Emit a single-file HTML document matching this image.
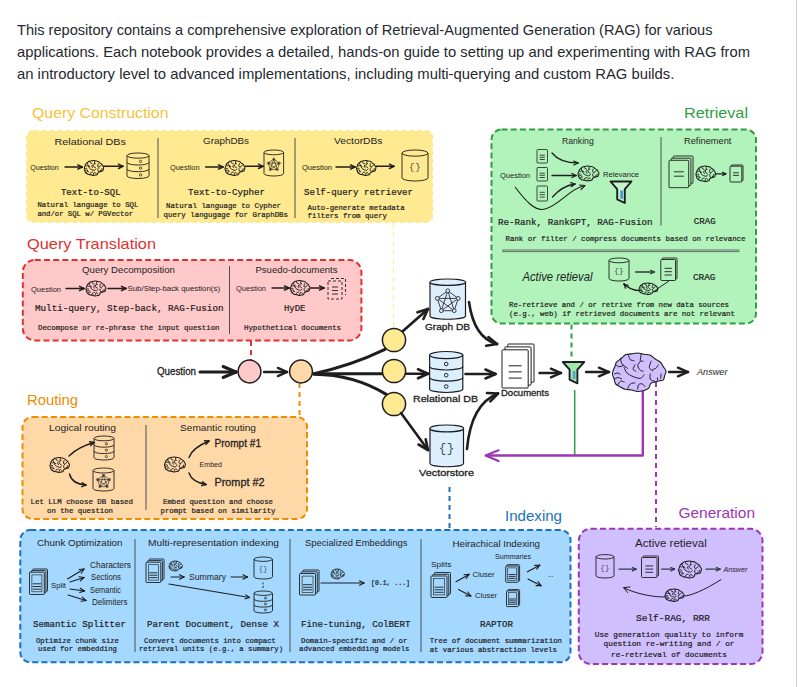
<!DOCTYPE html>
<html><head><meta charset="utf-8"><title>RAG</title>
<style>
html,body{margin:0;padding:0;background:#fff;}
body{width:800px;height:687px;overflow:hidden;position:relative;font-family:"Liberation Sans",sans-serif;}
.p{position:absolute;left:17px;top:18px;width:770px;font-size:15.2px;line-height:22px;color:#1f2328;white-space:nowrap;}
.vl{position:absolute;left:796px;top:0;width:1px;height:687px;background:#d0d0d0;}
svg{position:absolute;left:0;top:0;}
</style></head><body>

<div class="vl"></div>
<svg width="800" height="687" viewBox="0 0 800 687">
<text x="17" y="35" font-family="Liberation Sans, sans-serif" font-size="15" fill="#24292f" textLength="695.5" lengthAdjust="spacingAndGlyphs">This repository contains a comprehensive exploration of Retrieval-Augmented Generation (RAG) for various</text>
<text x="17" y="57" font-family="Liberation Sans, sans-serif" font-size="15" fill="#24292f" textLength="733.0" lengthAdjust="spacingAndGlyphs">applications. Each notebook provides a detailed, hands-on guide to setting up and experimenting with RAG from</text>
<text x="17" y="78.5" font-family="Liberation Sans, sans-serif" font-size="15" fill="#24292f" textLength="657.3" lengthAdjust="spacingAndGlyphs">an introductory level to advanced implementations, including multi-querying and custom RAG builds.</text>
<rect x="27" y="131" width="405.3" height="91" rx="6" fill="#ffe991" stroke="#ffe991" stroke-width="2" stroke-dasharray="5 3"/>
<rect x="22.8" y="260.0" width="338.6" height="80.4" rx="12" fill="#ffc9c9" stroke="#e03131" stroke-width="2" stroke-dasharray="6 3.2"/>
<rect x="22.5" y="417.0" width="284.5" height="102.0" rx="10" fill="#ffd8a8" stroke="#f08c00" stroke-width="2" stroke-dasharray="6 3.2"/>
<rect x="20.3" y="530.0" width="550.2" height="132.3" rx="10" fill="#a5d8ff" stroke="#1971c2" stroke-width="2" stroke-dasharray="6 3.2"/>
<rect x="491.5" y="129.5" width="264.5" height="194.0" rx="10" fill="#b2f2bb" stroke="#2f9e44" stroke-width="2" stroke-dasharray="6 3.2"/>
<rect x="578.8" y="528.8" width="183.7" height="135.2" rx="12" fill="#d0bfff" stroke="#9c36b5" stroke-width="2" stroke-dasharray="6 3.2"/>
<path d="M393.5 223 L393.5 329" stroke="#ffe991" stroke-width="1.2" stroke-dasharray="5 4" fill="none"/>
<path d="M251 341 L251 360" stroke="#e03131" stroke-width="2" stroke-dasharray="5 4" fill="none"/>
<path d="M299.5 383 L299.5 416" stroke="#f08c00" stroke-width="2" stroke-dasharray="5 4" fill="none"/>
<path d="M449.5 487 L449.5 528" stroke="#1971c2" stroke-width="2" stroke-dasharray="5 4" fill="none"/>
<path d="M571.5 324.5 L571.5 360" stroke="#2f9e44" stroke-width="2" stroke-dasharray="5 4" fill="none"/>
<path d="M656 382 L656 527" stroke="#9c36b5" stroke-width="2" stroke-dasharray="5 4" fill="none"/>
<path d="M574.7 390 L574.7 455" stroke="#2f9e44" stroke-width="1.5" fill="none"/>
<path d="M642.8 391 L642.8 455.5 L487 455.5" stroke="#9c36b5" stroke-width="2.4" fill="none" stroke-linejoin="round"/>
<path d="M498.5 450.3 L485.5 455.5 L498.5 461" stroke="#9c36b5" stroke-width="2.2" fill="none" stroke-linecap="round" stroke-linejoin="round"/>
<text x="32.0" y="118.0" font-family="Liberation Sans, sans-serif" font-size="14.50" font-style="normal" font-weight="normal" fill="#f5c33b" stroke="#f5c33b" stroke-width="0.0" textLength="136.5" lengthAdjust="spacingAndGlyphs">Query Construction</text>
<text x="27.0" y="249.0" font-family="Liberation Sans, sans-serif" font-size="14.50" font-style="normal" font-weight="normal" fill="#e03131" stroke="#e03131" stroke-width="0.0" textLength="129.0" lengthAdjust="spacingAndGlyphs">Query Translation</text>
<text x="27.0" y="404.5" font-family="Liberation Sans, sans-serif" font-size="14.50" font-style="normal" font-weight="normal" fill="#f08c00" stroke="#f08c00" stroke-width="0.0" textLength="51.0" lengthAdjust="spacingAndGlyphs">Routing</text>
<text x="684.0" y="118.0" font-family="Liberation Sans, sans-serif" font-size="14.50" font-style="normal" font-weight="normal" fill="#2f9e44" stroke="#2f9e44" stroke-width="0.0" textLength="64.0" lengthAdjust="spacingAndGlyphs">Retrieval</text>
<text x="505.0" y="520.5" font-family="Liberation Sans, sans-serif" font-size="14.50" font-style="normal" font-weight="normal" fill="#1971c2" stroke="#1971c2" stroke-width="0.0" textLength="57.0" lengthAdjust="spacingAndGlyphs">Indexing</text>
<text x="678.5" y="518.0" font-family="Liberation Sans, sans-serif" font-size="14.50" font-style="normal" font-weight="normal" fill="#9c36b5" stroke="#9c36b5" stroke-width="0.0" textLength="76.5" lengthAdjust="spacingAndGlyphs">Generation</text>
<path d="M158.0 138.0 L158.0 218.0" stroke="#495057" stroke-width="1.0" fill="none"/>
<path d="M295.0 138.0 L295.0 218.0" stroke="#495057" stroke-width="1.0" fill="none"/>
<text x="54.5" y="144.7" font-family="Liberation Sans, sans-serif" font-size="9.80" font-style="normal" font-weight="normal" fill="#1e1e1e" stroke="#1e1e1e" stroke-width="0.0" textLength="71.5" lengthAdjust="spacingAndGlyphs">Relational DBs</text>
<text x="203.0" y="144.2" font-family="Liberation Sans, sans-serif" font-size="9.80" font-style="normal" font-weight="normal" fill="#1e1e1e" stroke="#1e1e1e" stroke-width="0.0" textLength="46.0" lengthAdjust="spacingAndGlyphs">GraphDBs</text>
<text x="334.0" y="144.0" font-family="Liberation Sans, sans-serif" font-size="9.80" font-style="normal" font-weight="normal" fill="#1e1e1e" stroke="#1e1e1e" stroke-width="0.0" textLength="48.5" lengthAdjust="spacingAndGlyphs">VectorDBs</text>
<text x="30.3" y="169.8" font-family="Liberation Sans, sans-serif" font-size="7.50" font-style="normal" font-weight="normal" fill="#1e1e1e" stroke="#1e1e1e" stroke-width="0.0" textLength="28.5" lengthAdjust="spacingAndGlyphs">Question</text>
<path d="M65.0 167.0 L82.3 167.0" fill="none" stroke="#1e1e1e" stroke-width="1.4" stroke-linecap="round"/>
<path d="M82.3 167.0 L77.8 164.8" fill="none" stroke="#1e1e1e" stroke-width="1.4" stroke-linecap="round"/>
<path d="M82.3 167.0 L77.8 169.2" fill="none" stroke="#1e1e1e" stroke-width="1.4" stroke-linecap="round"/>
<path d="M84.45 167.56 C84.61 166.99 85.03 166.13 85.25 165.55 C85.47 164.96 85.39 164.53 85.75 164.05 C86.12 163.57 86.90 163.14 87.45 162.67 C87.99 162.20 88.41 161.53 89.04 161.23 C89.67 160.92 90.49 160.96 91.23 160.84 C91.96 160.72 92.70 160.48 93.44 160.50 C94.18 160.52 94.90 160.81 95.66 160.96 C96.41 161.10 97.31 161.08 97.99 161.39 C98.68 161.70 99.13 162.35 99.76 162.82 C100.39 163.30 101.26 163.70 101.76 164.21 C102.26 164.72 102.43 165.34 102.75 165.90 C103.07 166.46 103.62 166.99 103.70 167.56 C103.78 168.12 103.38 168.72 103.22 169.28 C103.05 169.85 103.05 170.60 102.73 170.94 C102.41 171.29 101.82 171.21 101.31 171.35 C100.79 171.49 100.16 171.62 99.63 171.79 C99.11 171.96 98.56 171.94 98.18 172.36 C97.80 172.77 97.78 173.84 97.36 174.29 C96.94 174.74 96.31 174.88 95.66 175.08 C95.00 175.28 94.18 175.53 93.44 175.50 C92.70 175.47 91.99 175.04 91.23 174.89 C90.46 174.74 89.53 174.81 88.85 174.61 C88.17 174.42 87.73 174.07 87.16 173.72 C86.59 173.37 85.79 173.03 85.42 172.52 C85.05 172.00 85.11 171.24 84.93 170.65 C84.74 170.05 84.38 169.48 84.30 168.97 C84.22 168.45 84.29 168.13 84.45 167.56Z" fill="none" stroke="#1e1e1e" stroke-width="1.05" stroke-linejoin="round"/>
<path d="M87.21 162.48 C87.29 162.84 87.26 163.98 87.70 164.65 C88.13 165.33 89.47 166.20 89.82 166.51 M90.16 161.59 C90.24 161.83 90.35 162.72 90.68 163.04 C91.01 163.36 91.89 163.44 92.13 163.52 M94.75 160.86 C94.69 161.29 94.30 162.97 94.41 163.44 C94.52 163.91 95.22 163.65 95.38 163.69 M94.41 163.69 C94.25 163.98 93.44 164.87 93.44 165.46 C93.44 166.05 94.09 166.88 94.41 167.23 C94.73 167.58 95.22 167.50 95.38 167.56 M92.43 165.10 C92.33 165.39 91.74 166.46 91.80 166.87 C91.85 167.28 92.61 167.44 92.77 167.56 M98.33 163.69 C98.22 164.10 97.55 165.50 97.66 166.15 C97.76 166.79 98.74 167.32 98.96 167.56 M100.94 165.10 C100.78 165.33 100.30 166.21 99.97 166.51 C99.64 166.80 99.13 166.81 98.96 166.87 M88.52 166.15 C88.69 166.50 89.01 167.69 89.56 168.28 C90.11 168.87 90.99 169.34 91.80 169.69 C92.61 170.04 93.76 170.50 94.41 170.38 C95.06 170.26 95.50 169.20 95.72 168.97 M97.99 168.65 C97.99 168.99 97.72 170.22 97.99 170.70 C98.27 171.18 99.36 171.37 99.63 171.51 M85.08 168.65 C85.28 168.58 85.91 168.26 86.24 168.28 C86.57 168.31 86.92 168.72 87.06 168.81 M84.93 170.74 C85.15 170.63 85.80 170.08 86.24 170.06 C86.68 170.03 87.33 170.49 87.55 170.58 M86.24 172.88 C86.40 172.64 86.83 171.65 87.21 171.47 C87.59 171.29 88.30 171.74 88.52 171.79 M89.82 174.29 C89.99 173.99 90.39 172.87 90.83 172.52 C91.26 172.16 92.17 172.21 92.43 172.15 M93.44 174.61 C93.49 174.32 93.47 173.23 93.74 172.88 C94.01 172.53 94.66 172.40 95.04 172.52 C95.43 172.63 95.88 173.39 96.05 173.56 M85.61 165.10 C85.77 165.22 86.14 165.76 86.58 165.82 C87.01 165.88 87.94 165.52 88.22 165.46 M101.91 168.65 C101.88 168.93 101.78 170.09 101.76 170.38 M100.60 170.22 C100.60 170.37 100.60 170.96 100.60 171.10" fill="none" stroke="#1e1e1e" stroke-width="0.95" stroke-linecap="round"/>
<path d="M103.7 166.3 L123.0 166.3" fill="none" stroke="#1e1e1e" stroke-width="1.4" stroke-linecap="round"/>
<path d="M123.0 166.3 L118.5 164.1" fill="none" stroke="#1e1e1e" stroke-width="1.4" stroke-linecap="round"/>
<path d="M123.0 166.3 L118.5 168.5" fill="none" stroke="#1e1e1e" stroke-width="1.4" stroke-linecap="round"/>
<text x="170.0" y="169.8" font-family="Liberation Sans, sans-serif" font-size="7.50" font-style="normal" font-weight="normal" fill="#1e1e1e" stroke="#1e1e1e" stroke-width="0.0" textLength="29.6" lengthAdjust="spacingAndGlyphs">Question</text>
<path d="M205.6 167.0 L223.0 167.0" fill="none" stroke="#1e1e1e" stroke-width="1.4" stroke-linecap="round"/>
<path d="M223.0 167.0 L218.5 164.8" fill="none" stroke="#1e1e1e" stroke-width="1.4" stroke-linecap="round"/>
<path d="M223.0 167.0 L218.5 169.2" fill="none" stroke="#1e1e1e" stroke-width="1.4" stroke-linecap="round"/>
<path d="M225.15 167.56 C225.32 166.99 225.76 166.13 225.98 165.55 C226.21 164.96 226.12 164.53 226.50 164.05 C226.88 163.57 227.68 163.14 228.25 162.67 C228.81 162.20 229.24 161.53 229.88 161.23 C230.53 160.92 231.39 160.96 232.14 160.84 C232.90 160.72 233.66 160.48 234.42 160.50 C235.18 160.52 235.93 160.81 236.71 160.96 C237.49 161.10 238.41 161.08 239.12 161.39 C239.82 161.70 240.29 162.35 240.94 162.82 C241.59 163.30 242.49 163.70 243.00 164.21 C243.51 164.72 243.69 165.34 244.02 165.90 C244.35 166.46 244.92 166.99 245.00 167.56 C245.08 168.12 244.67 168.72 244.50 169.28 C244.33 169.85 244.33 170.60 244.00 170.94 C243.67 171.29 243.07 171.21 242.53 171.35 C242.00 171.49 241.35 171.62 240.81 171.79 C240.27 171.96 239.70 171.94 239.31 172.36 C238.91 172.77 238.89 173.84 238.46 174.29 C238.03 174.74 237.38 174.88 236.71 175.08 C236.03 175.28 235.18 175.53 234.42 175.50 C233.66 175.47 232.93 175.04 232.14 174.89 C231.35 174.74 230.39 174.81 229.69 174.61 C228.99 174.42 228.54 174.07 227.95 173.72 C227.36 173.37 226.54 173.03 226.15 172.52 C225.77 172.00 225.84 171.24 225.65 170.65 C225.45 170.05 225.08 169.48 225.00 168.97 C224.92 168.45 224.99 168.13 225.15 167.56Z" fill="none" stroke="#1e1e1e" stroke-width="1.05" stroke-linejoin="round"/>
<path d="M228.00 162.48 C228.08 162.84 228.05 163.98 228.50 164.65 C228.95 165.33 230.33 166.20 230.69 166.51 M231.04 161.59 C231.13 161.83 231.24 162.72 231.58 163.04 C231.92 163.36 232.83 163.44 233.08 163.52 M235.77 160.86 C235.71 161.29 235.31 162.97 235.42 163.44 C235.53 163.91 236.26 163.65 236.42 163.69 M235.42 163.69 C235.26 163.98 234.42 164.87 234.42 165.46 C234.42 166.05 235.09 166.88 235.42 167.23 C235.76 167.58 236.26 167.50 236.42 167.56 M233.38 165.10 C233.28 165.39 232.67 166.46 232.73 166.87 C232.79 167.28 233.56 167.44 233.73 167.56 M239.46 163.69 C239.35 164.10 238.66 165.50 238.77 166.15 C238.88 166.79 239.89 167.32 240.12 167.56 M242.15 165.10 C241.99 165.33 241.49 166.21 241.15 166.51 C240.81 166.80 240.29 166.81 240.12 166.87 M229.35 166.15 C229.53 166.50 229.86 167.69 230.42 168.28 C230.99 168.87 231.90 169.34 232.73 169.69 C233.56 170.04 234.75 170.50 235.42 170.38 C236.10 170.26 236.54 169.20 236.77 168.97 M239.12 168.65 C239.12 168.99 238.83 170.22 239.12 170.70 C239.40 171.18 240.53 171.37 240.81 171.51 M225.81 168.65 C226.01 168.58 226.66 168.26 227.00 168.28 C227.34 168.31 227.71 168.72 227.85 168.81 M225.65 170.74 C225.88 170.63 226.55 170.08 227.00 170.06 C227.45 170.03 228.12 170.49 228.35 170.58 M227.00 172.88 C227.17 172.64 227.61 171.65 228.00 171.47 C228.39 171.29 229.12 171.74 229.35 171.79 M230.69 174.29 C230.87 173.99 231.28 172.87 231.73 172.52 C232.18 172.16 233.11 172.21 233.38 172.15 M234.42 174.61 C234.47 174.32 234.46 173.23 234.73 172.88 C235.01 172.53 235.68 172.40 236.08 172.52 C236.47 172.63 236.94 173.39 237.12 173.56 M226.35 165.10 C226.51 165.22 226.90 165.76 227.35 165.82 C227.79 165.88 228.76 165.52 229.04 165.46 M243.15 168.65 C243.13 168.93 243.03 170.09 243.00 170.38 M241.81 170.22 C241.81 170.37 241.81 170.96 241.81 171.10" fill="none" stroke="#1e1e1e" stroke-width="0.95" stroke-linecap="round"/>
<path d="M245.6 166.3 L263.0 166.3" fill="none" stroke="#1e1e1e" stroke-width="1.4" stroke-linecap="round"/>
<path d="M263.0 166.3 L258.5 164.1" fill="none" stroke="#1e1e1e" stroke-width="1.4" stroke-linecap="round"/>
<path d="M263.0 166.3 L258.5 168.5" fill="none" stroke="#1e1e1e" stroke-width="1.4" stroke-linecap="round"/>
<text x="302.0" y="169.8" font-family="Liberation Sans, sans-serif" font-size="7.50" font-style="normal" font-weight="normal" fill="#1e1e1e" stroke="#1e1e1e" stroke-width="0.0" textLength="30.0" lengthAdjust="spacingAndGlyphs">Question</text>
<path d="M336.0 167.0 L355.0 167.0" fill="none" stroke="#1e1e1e" stroke-width="1.4" stroke-linecap="round"/>
<path d="M355.0 167.0 L350.5 164.8" fill="none" stroke="#1e1e1e" stroke-width="1.4" stroke-linecap="round"/>
<path d="M355.0 167.0 L350.5 169.2" fill="none" stroke="#1e1e1e" stroke-width="1.4" stroke-linecap="round"/>
<path d="M356.75 167.56 C356.91 166.99 357.33 166.13 357.55 165.55 C357.77 164.96 357.69 164.53 358.06 164.05 C358.42 163.57 359.20 163.14 359.75 162.67 C360.29 162.20 360.71 161.53 361.34 161.23 C361.97 160.92 362.79 160.96 363.53 160.84 C364.26 160.72 365.00 160.48 365.74 160.50 C366.48 160.52 367.20 160.81 367.96 160.96 C368.71 161.10 369.61 161.08 370.29 161.39 C370.98 161.70 371.43 162.35 372.06 162.82 C372.69 163.30 373.56 163.70 374.06 164.21 C374.56 164.72 374.73 165.34 375.05 165.90 C375.37 166.46 375.92 166.99 376.00 167.56 C376.08 168.12 375.68 168.72 375.52 169.28 C375.35 169.85 375.35 170.60 375.03 170.94 C374.71 171.29 374.12 171.21 373.61 171.35 C373.09 171.49 372.46 171.62 371.93 171.79 C371.41 171.96 370.86 171.94 370.48 172.36 C370.10 172.77 370.08 173.84 369.66 174.29 C369.24 174.74 368.61 174.88 367.96 175.08 C367.30 175.28 366.48 175.53 365.74 175.50 C365.00 175.47 364.29 175.04 363.53 174.89 C362.76 174.74 361.83 174.81 361.15 174.61 C360.47 174.42 360.03 174.07 359.46 173.72 C358.89 173.37 358.09 173.03 357.72 172.52 C357.35 172.00 357.41 171.24 357.23 170.65 C357.04 170.05 356.68 169.48 356.60 168.97 C356.52 168.45 356.59 168.13 356.75 167.56Z" fill="none" stroke="#1e1e1e" stroke-width="1.05" stroke-linejoin="round"/>
<path d="M359.51 162.48 C359.59 162.84 359.56 163.98 360.00 164.65 C360.43 165.33 361.77 166.20 362.12 166.51 M362.46 161.59 C362.54 161.83 362.65 162.72 362.98 163.04 C363.31 163.36 364.19 163.44 364.43 163.52 M367.05 160.86 C366.99 161.29 366.60 162.97 366.71 163.44 C366.82 163.91 367.52 163.65 367.68 163.69 M366.71 163.69 C366.55 163.98 365.74 164.87 365.74 165.46 C365.74 166.05 366.39 166.88 366.71 167.23 C367.03 167.58 367.52 167.50 367.68 167.56 M364.73 165.10 C364.63 165.39 364.04 166.46 364.10 166.87 C364.15 167.28 364.91 167.44 365.07 167.56 M370.63 163.69 C370.52 164.10 369.85 165.50 369.96 166.15 C370.06 166.79 371.04 167.32 371.26 167.56 M373.24 165.10 C373.08 165.33 372.60 166.21 372.27 166.51 C371.94 166.80 371.43 166.81 371.26 166.87 M360.82 166.15 C360.99 166.50 361.31 167.69 361.86 168.28 C362.41 168.87 363.29 169.34 364.10 169.69 C364.91 170.04 366.06 170.50 366.71 170.38 C367.36 170.26 367.80 169.20 368.02 168.97 M370.29 168.65 C370.29 168.99 370.02 170.22 370.29 170.70 C370.57 171.18 371.66 171.37 371.93 171.51 M357.38 168.65 C357.58 168.58 358.21 168.26 358.54 168.28 C358.87 168.31 359.22 168.72 359.36 168.81 M357.23 170.74 C357.45 170.63 358.10 170.08 358.54 170.06 C358.98 170.03 359.63 170.49 359.85 170.58 M358.54 172.88 C358.70 172.64 359.13 171.65 359.51 171.47 C359.89 171.29 360.60 171.74 360.82 171.79 M362.12 174.29 C362.29 173.99 362.69 172.87 363.13 172.52 C363.56 172.16 364.47 172.21 364.73 172.15 M365.74 174.61 C365.79 174.32 365.77 173.23 366.04 172.88 C366.31 172.53 366.96 172.40 367.34 172.52 C367.73 172.63 368.18 173.39 368.35 173.56 M357.91 165.10 C358.07 165.22 358.44 165.76 358.88 165.82 C359.31 165.88 360.24 165.52 360.52 165.46 M374.21 168.65 C374.18 168.93 374.08 170.09 374.06 170.38 M372.90 170.22 C372.90 170.37 372.90 170.96 372.90 171.10" fill="none" stroke="#1e1e1e" stroke-width="0.95" stroke-linecap="round"/>
<path d="M376.0 166.3 L394.0 166.3" fill="none" stroke="#1e1e1e" stroke-width="1.4" stroke-linecap="round"/>
<path d="M394.0 166.3 L389.5 164.1" fill="none" stroke="#1e1e1e" stroke-width="1.4" stroke-linecap="round"/>
<path d="M394.0 166.3 L389.5 168.5" fill="none" stroke="#1e1e1e" stroke-width="1.4" stroke-linecap="round"/>
<path d="M127.0 155.6 L127.0 175.9 A11.0 2.6 0 0 0 149.0 175.9 L149.0 155.6" fill="none" stroke="#1e1e1e" stroke-width="0.9"/>
<ellipse cx="138.0" cy="155.6" rx="11.0" ry="2.6" fill="none" stroke="#1e1e1e" stroke-width="0.9"/>
<path d="M127.0 162.4 A11.0 2.6 0 0 0 149.0 162.4" fill="none" stroke="#1e1e1e" stroke-width="0.9"/>
<path d="M127.0 169.1 A11.0 2.6 0 0 0 149.0 169.1" fill="none" stroke="#1e1e1e" stroke-width="0.9"/>
<circle cx="140.6" cy="161.4" r="1.2" fill="none" stroke="#1e1e1e" stroke-width="0.72"/>
<circle cx="140.6" cy="168.1" r="1.2" fill="none" stroke="#1e1e1e" stroke-width="0.72"/>
<circle cx="140.6" cy="174.9" r="1.2" fill="none" stroke="#1e1e1e" stroke-width="0.72"/>
<path d="M264.0 152.4 L264.0 173.6 A9.8 2.4 0 0 0 283.6 173.6 L283.6 152.4" fill="none" stroke="#1e1e1e" stroke-width="0.9"/>
<ellipse cx="273.8" cy="152.4" rx="9.8" ry="2.4" fill="none" stroke="#1e1e1e" stroke-width="0.9"/>
<path d="M273.8 159.0L279.4 163.1M273.8 159.0L277.3 169.6M273.8 159.0L270.3 169.6M273.8 159.0L268.2 163.1M279.4 163.1L277.3 169.6M279.4 163.1L270.3 169.6M279.4 163.1L268.2 163.1M277.3 169.6L270.3 169.6M277.3 169.6L268.2 163.1M270.3 169.6L268.2 163.1" fill="none" stroke="#1e1e1e" stroke-width="0.63"/>
<circle cx="273.8" cy="159.0" r="1.0" fill="none" stroke="#1e1e1e" stroke-width="0.63"/>
<circle cx="279.4" cy="163.1" r="1.0" fill="none" stroke="#1e1e1e" stroke-width="0.63"/>
<circle cx="277.3" cy="169.6" r="1.0" fill="none" stroke="#1e1e1e" stroke-width="0.63"/>
<circle cx="270.3" cy="169.6" r="1.0" fill="none" stroke="#1e1e1e" stroke-width="0.63"/>
<circle cx="268.2" cy="163.1" r="1.0" fill="none" stroke="#1e1e1e" stroke-width="0.63"/>
<path d="M402.0 153.1 L402.0 177.9 A13.0 3.1 0 0 0 428.0 177.9 L428.0 153.1" fill="none" stroke="#1e1e1e" stroke-width="0.9"/>
<ellipse cx="415.0" cy="153.1" rx="13.0" ry="3.1" fill="none" stroke="#1e1e1e" stroke-width="0.9"/>
<text x="415.0" y="170.0" font-family="Liberation Mono, monospace" font-size="9.9" text-anchor="middle" fill="#495057" letter-spacing="0.4">{}</text>
<text x="60.9" y="194.7" font-family="Liberation Mono, monospace" font-size="9.20" font-weight="normal" fill="#1e1e1e" stroke="#1e1e1e" stroke-width="0.22" textLength="59.7" lengthAdjust="spacingAndGlyphs">Text-to-SQL</text>
<text x="37.4" y="207.4" font-family="Liberation Mono, monospace" font-size="7.60" font-weight="normal" fill="#1e1e1e" stroke="#1e1e1e" stroke-width="0.22" textLength="100.9" lengthAdjust="spacingAndGlyphs">Natural language to SQL</text>
<text x="37.4" y="216.2" font-family="Liberation Mono, monospace" font-size="7.60" font-weight="normal" fill="#1e1e1e" stroke="#1e1e1e" stroke-width="0.22" textLength="95.8" lengthAdjust="spacingAndGlyphs">and/or SQL w/ PGVector</text>
<text x="188.0" y="195.1" font-family="Liberation Mono, monospace" font-size="9.20" font-weight="normal" fill="#1e1e1e" stroke="#1e1e1e" stroke-width="0.22" textLength="77.0" lengthAdjust="spacingAndGlyphs">Text-to-Cypher</text>
<text x="166.0" y="207.8" font-family="Liberation Mono, monospace" font-size="7.60" font-weight="normal" fill="#1e1e1e" stroke="#1e1e1e" stroke-width="0.22" textLength="115.0" lengthAdjust="spacingAndGlyphs">Natural language to Cypher</text>
<text x="163.6" y="216.8" font-family="Liberation Mono, monospace" font-size="7.60" font-weight="normal" fill="#1e1e1e" stroke="#1e1e1e" stroke-width="0.22" textLength="124.4" lengthAdjust="spacingAndGlyphs">query langugage for GraphDBs</text>
<text x="304.0" y="194.9" font-family="Liberation Mono, monospace" font-size="9.20" font-weight="normal" fill="#1e1e1e" stroke="#1e1e1e" stroke-width="0.22" textLength="109.0" lengthAdjust="spacingAndGlyphs">Self-query retriever</text>
<text x="307.6" y="209.8" font-family="Liberation Mono, monospace" font-size="7.60" font-weight="normal" fill="#1e1e1e" stroke="#1e1e1e" stroke-width="0.22" textLength="97.0" lengthAdjust="spacingAndGlyphs">Auto-generate metadata</text>
<text x="307.6" y="218.4" font-family="Liberation Mono, monospace" font-size="7.60" font-weight="normal" fill="#1e1e1e" stroke="#1e1e1e" stroke-width="0.22" textLength="79.4" lengthAdjust="spacingAndGlyphs">filters from query</text>
<path d="M229.5 266.0 L229.5 334.0" stroke="#495057" stroke-width="1.0" fill="none"/>
<text x="82.0" y="273.2" font-family="Liberation Sans, sans-serif" font-size="9.80" font-style="normal" font-weight="normal" fill="#1e1e1e" stroke="#1e1e1e" stroke-width="0.0" textLength="93.0" lengthAdjust="spacingAndGlyphs">Query Decomposition</text>
<text x="255.5" y="272.7" font-family="Liberation Sans, sans-serif" font-size="9.80" font-style="normal" font-weight="normal" fill="#1e1e1e" stroke="#1e1e1e" stroke-width="0.0" textLength="82.0" lengthAdjust="spacingAndGlyphs">Psuedo-documents</text>
<text x="31.0" y="291.5" font-family="Liberation Sans, sans-serif" font-size="7.50" font-style="normal" font-weight="normal" fill="#1e1e1e" stroke="#1e1e1e" stroke-width="0.0" textLength="30.0" lengthAdjust="spacingAndGlyphs">Question</text>
<path d="M66.0 288.5 L84.0 288.5" fill="none" stroke="#1e1e1e" stroke-width="1.4" stroke-linecap="round"/>
<path d="M84.0 288.5 L79.5 286.3" fill="none" stroke="#1e1e1e" stroke-width="1.4" stroke-linecap="round"/>
<path d="M84.0 288.5 L79.5 290.7" fill="none" stroke="#1e1e1e" stroke-width="1.4" stroke-linecap="round"/>
<path d="M86.15 288.06 C86.32 287.49 86.76 286.63 86.98 286.05 C87.21 285.46 87.12 285.03 87.50 284.55 C87.88 284.07 88.68 283.64 89.25 283.17 C89.81 282.70 90.24 282.03 90.88 281.73 C91.53 281.42 92.39 281.46 93.14 281.34 C93.90 281.22 94.66 280.98 95.42 281.00 C96.18 281.02 96.93 281.31 97.71 281.46 C98.49 281.60 99.41 281.58 100.12 281.89 C100.82 282.20 101.29 282.85 101.94 283.32 C102.59 283.80 103.49 284.20 104.00 284.71 C104.51 285.22 104.69 285.84 105.02 286.40 C105.35 286.96 105.92 287.49 106.00 288.06 C106.08 288.62 105.67 289.22 105.50 289.78 C105.33 290.35 105.33 291.10 105.00 291.44 C104.67 291.79 104.07 291.71 103.53 291.85 C103.00 291.99 102.35 292.12 101.81 292.29 C101.27 292.46 100.70 292.44 100.31 292.86 C99.91 293.27 99.89 294.34 99.46 294.79 C99.03 295.24 98.38 295.38 97.71 295.58 C97.03 295.78 96.18 296.03 95.42 296.00 C94.66 295.97 93.93 295.54 93.14 295.39 C92.35 295.24 91.39 295.31 90.69 295.11 C89.99 294.92 89.54 294.57 88.95 294.22 C88.36 293.87 87.54 293.53 87.15 293.02 C86.77 292.50 86.84 291.74 86.65 291.15 C86.45 290.55 86.08 289.98 86.00 289.47 C85.92 288.95 85.99 288.63 86.15 288.06Z" fill="none" stroke="#1e1e1e" stroke-width="1.05" stroke-linejoin="round"/>
<path d="M89.00 282.98 C89.08 283.34 89.05 284.48 89.50 285.15 C89.95 285.83 91.33 286.70 91.69 287.01 M92.04 282.09 C92.13 282.33 92.24 283.22 92.58 283.54 C92.92 283.86 93.83 283.94 94.08 284.02 M96.77 281.36 C96.71 281.79 96.31 283.47 96.42 283.94 C96.53 284.41 97.26 284.15 97.42 284.19 M96.42 284.19 C96.26 284.48 95.42 285.37 95.42 285.96 C95.42 286.55 96.09 287.38 96.42 287.73 C96.76 288.08 97.26 288.00 97.42 288.06 M94.38 285.60 C94.28 285.89 93.67 286.96 93.73 287.37 C93.79 287.78 94.56 287.94 94.73 288.06 M100.46 284.19 C100.35 284.60 99.66 286.00 99.77 286.65 C99.88 287.29 100.89 287.82 101.12 288.06 M103.15 285.60 C102.99 285.83 102.49 286.71 102.15 287.01 C101.81 287.30 101.29 287.31 101.12 287.37 M90.35 286.65 C90.53 287.00 90.86 288.19 91.42 288.78 C91.99 289.37 92.90 289.84 93.73 290.19 C94.56 290.54 95.75 291.00 96.42 290.88 C97.10 290.76 97.54 289.70 97.77 289.47 M100.12 289.15 C100.12 289.49 99.83 290.72 100.12 291.20 C100.40 291.68 101.53 291.87 101.81 292.01 M86.81 289.15 C87.01 289.08 87.66 288.76 88.00 288.78 C88.34 288.81 88.71 289.22 88.85 289.31 M86.65 291.24 C86.88 291.13 87.55 290.58 88.00 290.56 C88.45 290.53 89.12 290.99 89.35 291.08 M88.00 293.38 C88.17 293.14 88.61 292.15 89.00 291.97 C89.39 291.79 90.12 292.24 90.35 292.29 M91.69 294.79 C91.87 294.49 92.28 293.37 92.73 293.02 C93.18 292.66 94.11 292.71 94.38 292.65 M95.42 295.11 C95.47 294.82 95.46 293.73 95.73 293.38 C96.01 293.03 96.68 292.90 97.08 293.02 C97.47 293.13 97.94 293.89 98.12 294.06 M87.35 285.60 C87.51 285.72 87.90 286.26 88.35 286.32 C88.79 286.38 89.76 286.02 90.04 285.96 M104.15 289.15 C104.13 289.43 104.03 290.59 104.00 290.88 M102.81 290.72 C102.81 290.87 102.81 291.46 102.81 291.60" fill="none" stroke="#1e1e1e" stroke-width="0.95" stroke-linecap="round"/>
<path d="M108.0 288.5 L126.0 288.5" fill="none" stroke="#1e1e1e" stroke-width="1.4" stroke-linecap="round"/>
<path d="M126.0 288.5 L121.5 286.3" fill="none" stroke="#1e1e1e" stroke-width="1.4" stroke-linecap="round"/>
<path d="M126.0 288.5 L121.5 290.7" fill="none" stroke="#1e1e1e" stroke-width="1.4" stroke-linecap="round"/>
<text x="127.5" y="291.0" font-family="Liberation Sans, sans-serif" font-size="7.50" font-style="normal" font-weight="normal" fill="#1e1e1e" stroke="#1e1e1e" stroke-width="0.0" textLength="92.5" lengthAdjust="spacingAndGlyphs">Sub/Step-back question(s)</text>
<text x="35.0" y="310.9" font-family="Liberation Mono, monospace" font-size="9.20" font-weight="normal" fill="#1e1e1e" stroke="#1e1e1e" stroke-width="0.22" textLength="188.5" lengthAdjust="spacingAndGlyphs">Multi-query, Step-back, RAG-Fusion</text>
<text x="38.0" y="329.9" font-family="Liberation Mono, monospace" font-size="7.60" font-weight="normal" fill="#1e1e1e" stroke="#1e1e1e" stroke-width="0.22" textLength="181.5" lengthAdjust="spacingAndGlyphs">Decompose or re-phrase the input question</text>
<text x="236.0" y="290.5" font-family="Liberation Sans, sans-serif" font-size="7.50" font-style="normal" font-weight="normal" fill="#1e1e1e" stroke="#1e1e1e" stroke-width="0.0" textLength="30.0" lengthAdjust="spacingAndGlyphs">Question</text>
<path d="M272.0 288.0 L289.0 288.0" fill="none" stroke="#1e1e1e" stroke-width="1.4" stroke-linecap="round"/>
<path d="M289.0 288.0 L284.5 285.8" fill="none" stroke="#1e1e1e" stroke-width="1.4" stroke-linecap="round"/>
<path d="M289.0 288.0 L284.5 290.2" fill="none" stroke="#1e1e1e" stroke-width="1.4" stroke-linecap="round"/>
<path d="M290.65 287.56 C290.81 286.99 291.24 286.13 291.46 285.55 C291.68 284.96 291.59 284.53 291.96 284.05 C292.33 283.57 293.11 283.14 293.66 282.67 C294.21 282.20 294.63 281.53 295.26 281.23 C295.90 280.92 296.73 280.96 297.46 280.84 C298.20 280.72 298.95 280.48 299.69 280.50 C300.43 280.52 301.15 280.81 301.91 280.96 C302.68 281.10 303.57 281.08 304.26 281.39 C304.95 281.70 305.41 282.35 306.04 282.82 C306.67 283.30 307.55 283.70 308.05 284.21 C308.55 284.72 308.72 285.34 309.04 285.90 C309.37 286.46 309.92 286.99 310.00 287.56 C310.08 288.12 309.68 288.72 309.51 289.28 C309.35 289.85 309.34 290.60 309.02 290.94 C308.71 291.29 308.11 291.21 307.60 291.35 C307.08 291.49 306.44 291.62 305.91 291.79 C305.39 291.96 304.83 291.94 304.45 292.36 C304.07 292.77 304.05 293.84 303.62 294.29 C303.20 294.74 302.57 294.88 301.91 295.08 C301.26 295.28 300.43 295.53 299.69 295.50 C298.95 295.47 298.23 295.04 297.46 294.89 C296.69 294.74 295.76 294.81 295.08 294.61 C294.39 294.42 293.95 294.07 293.37 293.72 C292.80 293.37 292.00 293.03 291.62 292.52 C291.25 292.00 291.32 291.24 291.13 290.65 C290.94 290.05 290.58 289.48 290.50 288.97 C290.42 288.45 290.49 288.13 290.65 287.56Z" fill="none" stroke="#1e1e1e" stroke-width="1.05" stroke-linejoin="round"/>
<path d="M293.43 282.48 C293.51 282.84 293.48 283.98 293.91 284.65 C294.35 285.33 295.69 286.20 296.05 286.51 M296.39 281.59 C296.48 281.83 296.58 282.72 296.91 283.04 C297.24 283.36 298.13 283.44 298.38 283.52 M301.00 280.86 C300.94 281.29 300.56 282.97 300.66 283.44 C300.77 283.91 301.48 283.65 301.64 283.69 M300.66 283.69 C300.50 283.98 299.69 284.87 299.69 285.46 C299.69 286.05 300.34 286.88 300.66 287.23 C300.99 287.58 301.48 287.50 301.64 287.56 M298.68 285.10 C298.57 285.39 297.98 286.46 298.04 286.87 C298.09 287.28 298.85 287.44 299.01 287.56 M304.60 283.69 C304.49 284.10 303.82 285.50 303.93 286.15 C304.03 286.79 305.02 287.32 305.24 287.56 M307.23 285.10 C307.06 285.33 306.58 286.21 306.25 286.51 C305.92 286.80 305.41 286.81 305.24 286.87 M294.74 286.15 C294.91 286.50 295.24 287.69 295.79 288.28 C296.34 288.87 297.23 289.34 298.04 289.69 C298.85 290.04 300.01 290.50 300.66 290.38 C301.32 290.26 301.76 289.20 301.98 288.97 M304.26 288.65 C304.26 288.99 303.99 290.22 304.26 290.70 C304.54 291.18 305.64 291.37 305.91 291.51 M291.29 288.65 C291.48 288.58 292.12 288.26 292.45 288.28 C292.78 288.31 293.14 288.72 293.27 288.81 M291.14 290.74 C291.36 290.63 292.01 290.08 292.45 290.06 C292.89 290.03 293.54 290.49 293.76 290.58 M292.45 292.88 C292.61 292.64 293.04 291.65 293.43 291.47 C293.81 291.29 294.52 291.74 294.74 291.79 M296.05 294.29 C296.22 293.99 296.62 292.87 297.06 292.52 C297.50 292.16 298.41 292.21 298.68 292.15 M299.69 294.61 C299.74 294.32 299.72 293.23 299.99 292.88 C300.26 292.53 300.91 292.40 301.30 292.52 C301.69 292.63 302.14 293.39 302.31 293.56 M291.81 285.10 C291.98 285.22 292.35 285.76 292.79 285.82 C293.23 285.88 294.16 285.52 294.44 285.46 M308.20 288.65 C308.18 288.93 308.08 290.09 308.05 290.38 M306.89 290.22 C306.89 290.37 306.89 290.96 306.89 291.10" fill="none" stroke="#1e1e1e" stroke-width="0.95" stroke-linecap="round"/>
<path d="M310.5 288.0 L324.0 288.0" fill="none" stroke="#1e1e1e" stroke-width="1.4" stroke-linecap="round"/>
<path d="M324.0 288.0 L319.5 285.8" fill="none" stroke="#1e1e1e" stroke-width="1.4" stroke-linecap="round"/>
<path d="M324.0 288.0 L319.5 290.2" fill="none" stroke="#1e1e1e" stroke-width="1.4" stroke-linecap="round"/>
<rect x="328" y="281" width="14" height="18" fill="none" stroke="#1e1e1e" stroke-width="0.9" stroke-dasharray="3 2"/>
<path d="M331 278.5 L345.5 278.5 L345.5 295" fill="none" stroke="#1e1e1e" stroke-width="0.9" stroke-dasharray="3 2"/>
<path d="M332 287 L338 287 M332 290.5 L338 290.5 M332 294 L338 294" stroke="#1e1e1e" stroke-width="0.9" fill="none"/>
<text x="284.0" y="310.9" font-family="Liberation Mono, monospace" font-size="9.20" font-weight="normal" fill="#1e1e1e" stroke="#1e1e1e" stroke-width="0.22" textLength="21.5" lengthAdjust="spacingAndGlyphs">HyDE</text>
<text x="244.0" y="329.9" font-family="Liberation Mono, monospace" font-size="7.60" font-weight="normal" fill="#1e1e1e" stroke="#1e1e1e" stroke-width="0.22" textLength="97.0" lengthAdjust="spacingAndGlyphs">Hypothetical documents</text>
<path d="M146.0 425.0 L146.0 510.0" stroke="#495057" stroke-width="1.0" fill="none"/>
<text x="49.0" y="431.2" font-family="Liberation Sans, sans-serif" font-size="9.80" font-style="normal" font-weight="normal" fill="#1e1e1e" stroke="#1e1e1e" stroke-width="0.0" textLength="67.0" lengthAdjust="spacingAndGlyphs">Logical routing</text>
<text x="180.0" y="430.7" font-family="Liberation Sans, sans-serif" font-size="9.80" font-style="normal" font-weight="normal" fill="#1e1e1e" stroke="#1e1e1e" stroke-width="0.0" textLength="76.0" lengthAdjust="spacingAndGlyphs">Semantic routing</text>
<path d="M94.0 438.4 L94.0 457.6 A10.0 2.4 0 0 0 114.0 457.6 L114.0 438.4" fill="none" stroke="#1e1e1e" stroke-width="0.9"/>
<ellipse cx="104.0" cy="438.4" rx="10.0" ry="2.4" fill="none" stroke="#1e1e1e" stroke-width="0.9"/>
<path d="M94.0 444.8 A10.0 2.4 0 0 0 114.0 444.8" fill="none" stroke="#1e1e1e" stroke-width="0.9"/>
<path d="M94.0 451.2 A10.0 2.4 0 0 0 114.0 451.2" fill="none" stroke="#1e1e1e" stroke-width="0.9"/>
<circle cx="106.4" cy="443.8" r="1.1" fill="none" stroke="#1e1e1e" stroke-width="0.72"/>
<circle cx="106.4" cy="450.2" r="1.1" fill="none" stroke="#1e1e1e" stroke-width="0.72"/>
<circle cx="106.4" cy="456.6" r="1.1" fill="none" stroke="#1e1e1e" stroke-width="0.72"/>
<path d="M93.0 470.5 L93.0 488.5 A10.5 2.5 0 0 0 114.0 488.5 L114.0 470.5" fill="none" stroke="#1e1e1e" stroke-width="0.9"/>
<ellipse cx="103.5" cy="470.5" rx="10.5" ry="2.5" fill="none" stroke="#1e1e1e" stroke-width="0.9"/>
<path d="M103.5 475.2L109.5 479.6M103.5 475.2L107.2 486.6M103.5 475.2L99.8 486.6M103.5 475.2L97.5 479.6M109.5 479.6L107.2 486.6M109.5 479.6L99.8 486.6M109.5 479.6L97.5 479.6M107.2 486.6L99.8 486.6M107.2 486.6L97.5 479.6M99.8 486.6L97.5 479.6" fill="none" stroke="#1e1e1e" stroke-width="0.63"/>
<circle cx="103.5" cy="475.2" r="1.1" fill="none" stroke="#1e1e1e" stroke-width="0.63"/>
<circle cx="109.5" cy="479.6" r="1.1" fill="none" stroke="#1e1e1e" stroke-width="0.63"/>
<circle cx="107.2" cy="486.6" r="1.1" fill="none" stroke="#1e1e1e" stroke-width="0.63"/>
<circle cx="99.8" cy="486.6" r="1.1" fill="none" stroke="#1e1e1e" stroke-width="0.63"/>
<circle cx="97.5" cy="479.6" r="1.1" fill="none" stroke="#1e1e1e" stroke-width="0.63"/>
<path d="M50.15 464.56 C50.31 463.99 50.74 463.13 50.96 462.55 C51.18 461.96 51.09 461.53 51.46 461.05 C51.83 460.57 52.61 460.14 53.16 459.67 C53.71 459.20 54.13 458.53 54.76 458.23 C55.40 457.92 56.23 457.96 56.96 457.84 C57.70 457.72 58.45 457.48 59.19 457.50 C59.93 457.52 60.65 457.81 61.41 457.96 C62.18 458.10 63.07 458.08 63.76 458.39 C64.45 458.70 64.91 459.35 65.54 459.82 C66.17 460.30 67.05 460.70 67.55 461.21 C68.05 461.72 68.22 462.34 68.54 462.90 C68.87 463.46 69.42 463.99 69.50 464.56 C69.58 465.12 69.18 465.72 69.01 466.28 C68.85 466.85 68.84 467.60 68.52 467.94 C68.21 468.29 67.61 468.21 67.10 468.35 C66.58 468.49 65.94 468.62 65.41 468.79 C64.89 468.96 64.33 468.94 63.95 469.36 C63.57 469.77 63.55 470.84 63.12 471.29 C62.70 471.74 62.07 471.88 61.41 472.08 C60.76 472.28 59.93 472.53 59.19 472.50 C58.45 472.47 57.73 472.04 56.96 471.89 C56.19 471.74 55.26 471.81 54.58 471.61 C53.89 471.42 53.45 471.07 52.87 470.72 C52.30 470.37 51.50 470.03 51.12 469.52 C50.75 469.00 50.82 468.24 50.63 467.65 C50.44 467.05 50.08 466.48 50.00 465.97 C49.92 465.45 49.99 465.13 50.15 464.56Z" fill="none" stroke="#1e1e1e" stroke-width="1.05" stroke-linejoin="round"/>
<path d="M52.93 459.48 C53.01 459.84 52.98 460.98 53.41 461.65 C53.85 462.33 55.19 463.20 55.55 463.51 M55.89 458.59 C55.98 458.83 56.08 459.72 56.41 460.04 C56.74 460.36 57.63 460.44 57.88 460.52 M60.50 457.86 C60.44 458.29 60.06 459.97 60.16 460.44 C60.27 460.91 60.98 460.65 61.14 460.69 M60.16 460.69 C60.00 460.98 59.19 461.87 59.19 462.46 C59.19 463.05 59.84 463.88 60.16 464.23 C60.49 464.58 60.98 464.50 61.14 464.56 M58.18 462.10 C58.07 462.39 57.48 463.46 57.54 463.87 C57.59 464.28 58.35 464.44 58.51 464.56 M64.10 460.69 C63.99 461.10 63.32 462.50 63.43 463.15 C63.53 463.79 64.52 464.32 64.74 464.56 M66.73 462.10 C66.56 462.33 66.08 463.21 65.75 463.51 C65.42 463.80 64.91 463.81 64.74 463.87 M54.24 463.15 C54.41 463.50 54.74 464.69 55.29 465.28 C55.84 465.87 56.73 466.34 57.54 466.69 C58.35 467.04 59.51 467.50 60.16 467.38 C60.82 467.26 61.26 466.20 61.48 465.97 M63.76 465.65 C63.76 465.99 63.49 467.22 63.76 467.70 C64.04 468.18 65.14 468.37 65.41 468.51 M50.79 465.65 C50.98 465.58 51.62 465.26 51.95 465.28 C52.28 465.31 52.64 465.72 52.77 465.81 M50.64 467.74 C50.86 467.63 51.51 467.08 51.95 467.06 C52.39 467.03 53.04 467.49 53.26 467.58 M51.95 469.88 C52.11 469.64 52.54 468.65 52.93 468.47 C53.31 468.29 54.02 468.74 54.24 468.79 M55.55 471.29 C55.72 470.99 56.12 469.87 56.56 469.52 C57.00 469.16 57.91 469.21 58.18 469.15 M59.19 471.61 C59.24 471.32 59.22 470.23 59.49 469.88 C59.76 469.53 60.41 469.40 60.80 469.52 C61.19 469.63 61.64 470.39 61.81 470.56 M51.31 462.10 C51.48 462.22 51.85 462.76 52.29 462.82 C52.73 462.88 53.66 462.52 53.94 462.46 M67.70 465.65 C67.68 465.93 67.58 467.09 67.55 467.38 M66.39 467.22 C66.39 467.37 66.39 467.96 66.39 468.10" fill="none" stroke="#1e1e1e" stroke-width="0.95" stroke-linecap="round"/>
<path d="M69.0 456.0 Q78.0 447.0 94.0 442.5" fill="none" stroke="#1e1e1e" stroke-width="1.4" stroke-linecap="round"/>
<path d="M94.0 442.5 L89.6 441.7" fill="none" stroke="#1e1e1e" stroke-width="1.4" stroke-linecap="round"/>
<path d="M94.0 442.5 L90.6 445.5" fill="none" stroke="#1e1e1e" stroke-width="1.4" stroke-linecap="round"/>
<path d="M69.5 474.0 Q72.0 484.0 86.0 485.0" fill="none" stroke="#1e1e1e" stroke-width="1.4" stroke-linecap="round"/>
<path d="M86.0 485.0 L82.1 482.8" fill="none" stroke="#1e1e1e" stroke-width="1.4" stroke-linecap="round"/>
<path d="M86.0 485.0 L81.8 486.7" fill="none" stroke="#1e1e1e" stroke-width="1.4" stroke-linecap="round"/>
<text x="30.5" y="504.4" font-family="Liberation Mono, monospace" font-size="7.60" font-weight="normal" fill="#1e1e1e" stroke="#1e1e1e" stroke-width="0.22" textLength="102.5" lengthAdjust="spacingAndGlyphs">Let LLM choose DB based</text>
<text x="47.0" y="512.9" font-family="Liberation Mono, monospace" font-size="7.60" font-weight="normal" fill="#1e1e1e" stroke="#1e1e1e" stroke-width="0.22" textLength="66.0" lengthAdjust="spacingAndGlyphs">on the question</text>
<path d="M164.66 464.06 C164.83 463.49 165.29 462.63 165.53 462.05 C165.77 461.46 165.68 461.03 166.07 460.55 C166.47 460.07 167.31 459.64 167.91 459.17 C168.50 458.70 168.95 458.03 169.63 457.73 C170.31 457.42 171.20 457.46 172.00 457.34 C172.79 457.22 173.60 456.98 174.39 457.00 C175.19 457.02 175.97 457.31 176.79 457.46 C177.61 457.60 178.58 457.58 179.32 457.89 C180.06 458.20 180.56 458.85 181.24 459.32 C181.92 459.80 182.86 460.20 183.40 460.71 C183.94 461.22 184.12 461.84 184.47 462.40 C184.82 462.96 185.42 463.49 185.50 464.06 C185.58 464.62 185.15 465.22 184.98 465.78 C184.80 466.35 184.79 467.10 184.45 467.44 C184.11 467.79 183.47 467.71 182.91 467.85 C182.35 467.99 181.66 468.12 181.10 468.29 C180.53 468.46 179.93 468.44 179.52 468.86 C179.11 469.27 179.09 470.34 178.63 470.79 C178.18 471.24 177.50 471.38 176.79 471.58 C176.09 471.78 175.19 472.03 174.39 472.00 C173.60 471.97 172.83 471.54 172.00 471.39 C171.17 471.24 170.16 471.31 169.43 471.11 C168.69 470.92 168.21 470.57 167.60 470.22 C166.98 469.87 166.11 469.53 165.71 469.02 C165.31 468.50 165.38 467.74 165.18 467.15 C164.98 466.55 164.59 465.98 164.50 465.47 C164.41 464.95 164.49 464.63 164.66 464.06Z" fill="none" stroke="#1e1e1e" stroke-width="1.05" stroke-linejoin="round"/>
<path d="M167.65 458.98 C167.74 459.34 167.70 460.48 168.18 461.15 C168.65 461.83 170.09 462.70 170.48 463.01 M170.84 458.09 C170.93 458.33 171.05 459.22 171.41 459.54 C171.76 459.86 172.72 459.94 172.98 460.02 M175.81 457.36 C175.75 457.79 175.33 459.47 175.44 459.94 C175.56 460.41 176.32 460.15 176.49 460.19 M175.44 460.19 C175.27 460.48 174.39 461.37 174.39 461.96 C174.39 462.55 175.09 463.38 175.44 463.73 C175.79 464.08 176.32 464.00 176.49 464.06 M173.30 461.60 C173.19 461.89 172.56 462.96 172.62 463.37 C172.68 463.78 173.49 463.94 173.67 464.06 M179.68 460.19 C179.56 460.60 178.84 462.00 178.96 462.65 C179.07 463.29 180.14 463.82 180.37 464.06 M182.51 461.60 C182.34 461.83 181.82 462.71 181.46 463.01 C181.10 463.30 180.55 463.31 180.37 463.37 M169.06 462.65 C169.25 463.00 169.60 464.19 170.19 464.78 C170.79 465.37 171.74 465.84 172.62 466.19 C173.49 466.54 174.74 467.00 175.44 466.88 C176.15 466.76 176.62 465.70 176.86 465.47 M179.32 465.15 C179.32 465.49 179.03 466.72 179.32 467.20 C179.62 467.68 180.80 467.87 181.10 468.01 M165.35 465.15 C165.56 465.08 166.24 464.76 166.60 464.78 C166.96 464.81 167.34 465.22 167.49 465.31 M165.19 467.24 C165.42 467.13 166.13 466.58 166.60 466.56 C167.07 466.53 167.78 466.99 168.01 467.08 M166.60 469.38 C166.78 469.14 167.24 468.15 167.65 467.97 C168.06 467.79 168.83 468.24 169.06 468.29 M170.48 470.79 C170.66 470.49 171.10 469.37 171.57 469.02 C172.04 468.66 173.01 468.71 173.30 468.65 M174.39 471.11 C174.45 470.82 174.43 469.73 174.72 469.38 C175.01 469.03 175.71 468.90 176.13 469.02 C176.55 469.13 177.04 469.89 177.22 470.06 M165.91 461.60 C166.09 461.72 166.49 462.26 166.96 462.32 C167.43 462.38 168.44 462.02 168.74 461.96 M183.56 465.15 C183.53 465.43 183.43 466.59 183.40 466.88 M182.15 466.72 C182.15 466.87 182.15 467.46 182.15 467.60" fill="none" stroke="#1e1e1e" stroke-width="0.95" stroke-linecap="round"/>
<path d="M189.0 457.5 Q192.0 448.0 209.0 441.0" fill="none" stroke="#1e1e1e" stroke-width="1.4" stroke-linecap="round"/>
<path d="M209.0 441.0 L204.5 440.7" fill="none" stroke="#1e1e1e" stroke-width="1.4" stroke-linecap="round"/>
<path d="M209.0 441.0 L206.0 444.4" fill="none" stroke="#1e1e1e" stroke-width="1.4" stroke-linecap="round"/>
<path d="M189.0 473.0 Q192.0 482.0 206.0 484.5" fill="none" stroke="#1e1e1e" stroke-width="1.4" stroke-linecap="round"/>
<path d="M206.0 484.5 L202.4 481.9" fill="none" stroke="#1e1e1e" stroke-width="1.4" stroke-linecap="round"/>
<path d="M206.0 484.5 L201.7 485.7" fill="none" stroke="#1e1e1e" stroke-width="1.4" stroke-linecap="round"/>
<text x="214.5" y="446.6" font-family="Liberation Sans, sans-serif" font-size="11.00" font-style="normal" font-weight="normal" fill="#1e1e1e" stroke="#1e1e1e" stroke-width="0.3" textLength="46.5" lengthAdjust="spacingAndGlyphs">Prompt #1</text>
<text x="214.5" y="486.1" font-family="Liberation Sans, sans-serif" font-size="11.00" font-style="normal" font-weight="normal" fill="#1e1e1e" stroke="#1e1e1e" stroke-width="0.3" textLength="50.0" lengthAdjust="spacingAndGlyphs">Prompt #2</text>
<text x="199.5" y="467.1" font-family="Liberation Sans, sans-serif" font-size="6.50" font-style="normal" font-weight="normal" fill="#1e1e1e" stroke="#1e1e1e" stroke-width="0.0" textLength="22.5" lengthAdjust="spacingAndGlyphs">Embed</text>
<text x="163.0" y="504.2" font-family="Liberation Mono, monospace" font-size="7.60" font-weight="normal" fill="#1e1e1e" stroke="#1e1e1e" stroke-width="0.22" textLength="110.0" lengthAdjust="spacingAndGlyphs">Embed question and choose</text>
<text x="160.5" y="512.9" font-family="Liberation Mono, monospace" font-size="7.60" font-weight="normal" fill="#1e1e1e" stroke="#1e1e1e" stroke-width="0.22" textLength="115.0" lengthAdjust="spacingAndGlyphs">prompt based on similarity</text>
<path d="M135.0 539.0 L135.0 652.0" stroke="#495057" stroke-width="1.0" fill="none"/>
<path d="M290.0 539.0 L290.0 652.0" stroke="#495057" stroke-width="1.0" fill="none"/>
<path d="M421.0 539.0 L421.0 652.0" stroke="#495057" stroke-width="1.0" fill="none"/>
<text x="37.0" y="546.2" font-family="Liberation Sans, sans-serif" font-size="9.80" font-style="normal" font-weight="normal" fill="#1e1e1e" stroke="#1e1e1e" stroke-width="0.0" textLength="85.5" lengthAdjust="spacingAndGlyphs">Chunk Optimization</text>
<text x="148.0" y="546.2" font-family="Liberation Sans, sans-serif" font-size="9.80" font-style="normal" font-weight="normal" fill="#1e1e1e" stroke="#1e1e1e" stroke-width="0.0" textLength="131.0" lengthAdjust="spacingAndGlyphs">Multi-representation indexing</text>
<text x="305.0" y="546.2" font-family="Liberation Sans, sans-serif" font-size="9.80" font-style="normal" font-weight="normal" fill="#1e1e1e" stroke="#1e1e1e" stroke-width="0.0" textLength="102.5" lengthAdjust="spacingAndGlyphs">Specialized Embeddings</text>
<text x="452.5" y="546.9" font-family="Liberation Sans, sans-serif" font-size="9.80" font-style="normal" font-weight="normal" fill="#1e1e1e" stroke="#1e1e1e" stroke-width="0.0" textLength="87.5" lengthAdjust="spacingAndGlyphs">Heirachical Indexing</text>
<rect x="32.7" y="569.0" width="14.8" height="22.3" rx="0.8" fill="#a5d8ff" stroke="#1e1e1e" stroke-width="0.9"/>
<rect x="31.1" y="570.6" width="14.8" height="22.3" rx="0.8" fill="#a5d8ff" stroke="#1e1e1e" stroke-width="0.9"/>
<rect x="29.5" y="572.2" width="14.8" height="22.3" rx="0.8" fill="#a5d8ff" stroke="#1e1e1e" stroke-width="0.9"/>
<rect x="31.9" y="574.9" width="10.0" height="16.9" fill="none" stroke="#1e1e1e" stroke-width="0.63"/>
<path d="M32.7 583.8 L41.0 583.8" stroke="#1e1e1e" stroke-width="0.9" fill="none"/>
<path d="M32.7 586.5 L41.0 586.5" stroke="#1e1e1e" stroke-width="0.9" fill="none"/>
<path d="M32.7 589.2 L41.0 589.2" stroke="#1e1e1e" stroke-width="0.9" fill="none"/>
<text x="51.0" y="588.0" font-family="Liberation Sans, sans-serif" font-size="7.50" font-style="normal" font-weight="normal" fill="#1e1e1e" stroke="#1e1e1e" stroke-width="0.0" textLength="15.0" lengthAdjust="spacingAndGlyphs">Split</text>
<path d="M67.5 579.0 L84.0 569.0" fill="none" stroke="#1e1e1e" stroke-width="1.15" stroke-linecap="round"/>
<path d="M84.0 569.0 L79.0 569.5" fill="none" stroke="#1e1e1e" stroke-width="1.15" stroke-linecap="round"/>
<path d="M84.0 569.0 L81.3 573.2" fill="none" stroke="#1e1e1e" stroke-width="1.15" stroke-linecap="round"/>
<path d="M70.0 582.0 L84.0 577.5" fill="none" stroke="#1e1e1e" stroke-width="1.15" stroke-linecap="round"/>
<path d="M84.0 577.5 L79.0 576.8" fill="none" stroke="#1e1e1e" stroke-width="1.15" stroke-linecap="round"/>
<path d="M84.0 577.5 L80.4 580.9" fill="none" stroke="#1e1e1e" stroke-width="1.15" stroke-linecap="round"/>
<path d="M70.0 589.0 L84.5 591.0" fill="none" stroke="#1e1e1e" stroke-width="1.15" stroke-linecap="round"/>
<path d="M84.5 591.0 L80.3 588.2" fill="none" stroke="#1e1e1e" stroke-width="1.15" stroke-linecap="round"/>
<path d="M84.5 591.0 L79.7 592.5" fill="none" stroke="#1e1e1e" stroke-width="1.15" stroke-linecap="round"/>
<path d="M68.0 595.0 L86.0 600.5" fill="none" stroke="#1e1e1e" stroke-width="1.15" stroke-linecap="round"/>
<path d="M86.0 600.5 L82.3 597.1" fill="none" stroke="#1e1e1e" stroke-width="1.15" stroke-linecap="round"/>
<path d="M86.0 600.5 L81.1 601.3" fill="none" stroke="#1e1e1e" stroke-width="1.15" stroke-linecap="round"/>
<text x="90.0" y="567.8" font-family="Liberation Sans, sans-serif" font-size="8.50" font-style="normal" font-weight="normal" fill="#1e1e1e" stroke="#1e1e1e" stroke-width="0.0" textLength="41.0" lengthAdjust="spacingAndGlyphs">Characters</text>
<text x="91.0" y="580.3" font-family="Liberation Sans, sans-serif" font-size="8.50" font-style="normal" font-weight="normal" fill="#1e1e1e" stroke="#1e1e1e" stroke-width="0.0" textLength="30.0" lengthAdjust="spacingAndGlyphs">Sections</text>
<text x="90.0" y="592.8" font-family="Liberation Sans, sans-serif" font-size="8.50" font-style="normal" font-weight="normal" fill="#1e1e1e" stroke="#1e1e1e" stroke-width="0.0" textLength="31.0" lengthAdjust="spacingAndGlyphs">Semantic</text>
<text x="92.0" y="604.8" font-family="Liberation Sans, sans-serif" font-size="8.50" font-style="normal" font-weight="normal" fill="#1e1e1e" stroke="#1e1e1e" stroke-width="0.0" textLength="35.5" lengthAdjust="spacingAndGlyphs">Delimiters</text>
<text x="33.0" y="626.7" font-family="Liberation Mono, monospace" font-size="9.20" font-weight="normal" fill="#1e1e1e" stroke="#1e1e1e" stroke-width="0.22" textLength="93.0" lengthAdjust="spacingAndGlyphs">Semantic Splitter</text>
<text x="36.0" y="642.9" font-family="Liberation Mono, monospace" font-size="7.60" font-weight="normal" fill="#1e1e1e" stroke="#1e1e1e" stroke-width="0.22" textLength="83.0" lengthAdjust="spacingAndGlyphs">Optimize chunk size</text>
<text x="38.0" y="651.4" font-family="Liberation Mono, monospace" font-size="7.60" font-weight="normal" fill="#1e1e1e" stroke="#1e1e1e" stroke-width="0.22" textLength="79.0" lengthAdjust="spacingAndGlyphs">used for embedding</text>
<rect x="149.2" y="559.0" width="14.8" height="20.3" rx="0.8" fill="#a5d8ff" stroke="#1e1e1e" stroke-width="0.9"/>
<rect x="147.6" y="560.6" width="14.8" height="20.3" rx="0.8" fill="#a5d8ff" stroke="#1e1e1e" stroke-width="0.9"/>
<rect x="146.0" y="562.2" width="14.8" height="20.3" rx="0.8" fill="#a5d8ff" stroke="#1e1e1e" stroke-width="0.9"/>
<rect x="148.4" y="564.7" width="10.0" height="15.4" fill="none" stroke="#1e1e1e" stroke-width="0.63"/>
<path d="M149.2 572.8 L157.5 572.8" stroke="#1e1e1e" stroke-width="0.9" fill="none"/>
<path d="M149.2 575.2 L157.5 575.2" stroke="#1e1e1e" stroke-width="0.9" fill="none"/>
<path d="M149.2 577.6 L157.5 577.6" stroke="#1e1e1e" stroke-width="0.9" fill="none"/>
<path d="M169.10 565.70 C169.21 565.32 169.51 564.76 169.66 564.37 C169.81 563.98 169.76 563.69 170.01 563.37 C170.27 563.05 170.81 562.76 171.19 562.45 C171.57 562.13 171.86 561.69 172.30 561.48 C172.74 561.28 173.31 561.31 173.82 561.23 C174.33 561.15 174.85 560.99 175.36 561.00 C175.87 561.01 176.37 561.21 176.90 561.30 C177.43 561.40 178.05 561.38 178.53 561.59 C179.00 561.80 179.32 562.24 179.76 562.55 C180.20 562.86 180.80 563.13 181.15 563.47 C181.50 563.81 181.61 564.23 181.84 564.60 C182.06 564.97 182.45 565.33 182.50 565.70 C182.55 566.08 182.28 566.48 182.16 566.86 C182.05 567.23 182.05 567.73 181.82 567.96 C181.60 568.19 181.19 568.14 180.84 568.23 C180.48 568.33 180.03 568.41 179.67 568.53 C179.31 568.64 178.92 568.63 178.66 568.91 C178.39 569.18 178.38 569.89 178.09 570.19 C177.79 570.50 177.36 570.59 176.90 570.72 C176.45 570.86 175.87 571.02 175.36 571.00 C174.85 570.98 174.35 570.69 173.82 570.59 C173.29 570.49 172.64 570.54 172.17 570.41 C171.70 570.28 171.39 570.05 170.99 569.81 C170.59 569.58 170.04 569.35 169.78 569.01 C169.52 568.67 169.57 568.16 169.44 567.76 C169.31 567.37 169.06 566.99 169.00 566.65 C168.94 566.30 168.99 566.08 169.10 565.70Z" fill="none" stroke="#1e1e1e" stroke-width="0.9" stroke-linejoin="round"/>
<path d="M171.03 562.32 C171.08 562.56 171.06 563.32 171.36 563.77 C171.67 564.22 172.60 564.80 172.84 565.01 M173.08 561.73 C173.14 561.89 173.21 562.48 173.44 562.69 C173.67 562.91 174.28 562.96 174.45 563.02 M176.27 561.24 C176.23 561.53 175.96 562.65 176.04 562.96 C176.11 563.28 176.60 563.10 176.71 563.12 M176.04 563.12 C175.92 563.32 175.36 563.91 175.36 564.31 C175.36 564.70 175.81 565.26 176.04 565.49 C176.26 565.72 176.60 565.67 176.71 565.70 M174.66 564.06 C174.59 564.26 174.18 564.97 174.22 565.25 C174.26 565.52 174.78 565.63 174.89 565.70 M178.76 563.12 C178.68 563.40 178.22 564.33 178.29 564.76 C178.37 565.19 179.05 565.55 179.20 565.70 M180.58 564.06 C180.47 564.22 180.13 564.81 179.90 565.01 C179.67 565.20 179.32 565.21 179.20 565.25 M171.93 564.76 C172.05 565.00 172.28 565.79 172.66 566.19 C173.04 566.58 173.66 566.90 174.22 567.13 C174.78 567.36 175.58 567.67 176.04 567.59 C176.49 567.51 176.79 566.80 176.94 566.65 M178.53 566.43 C178.53 566.66 178.34 567.48 178.53 567.80 C178.72 568.12 179.48 568.25 179.67 568.34 M169.55 566.43 C169.68 566.39 170.12 566.17 170.35 566.19 C170.58 566.21 170.83 566.48 170.92 566.54 M169.44 567.83 C169.59 567.75 170.05 567.39 170.35 567.37 C170.65 567.35 171.11 567.66 171.26 567.72 M170.35 569.25 C170.46 569.10 170.76 568.43 171.03 568.31 C171.29 568.19 171.78 568.49 171.93 568.53 M172.84 570.19 C172.96 570.00 173.24 569.25 173.54 569.01 C173.85 568.77 174.47 568.81 174.66 568.77 M175.36 570.41 C175.40 570.22 175.38 569.49 175.57 569.25 C175.75 569.02 176.21 568.93 176.48 569.01 C176.75 569.09 177.06 569.59 177.18 569.71 M169.91 564.06 C170.02 564.15 170.28 564.51 170.58 564.55 C170.89 564.59 171.54 564.35 171.73 564.31 M181.25 566.43 C181.24 566.62 181.17 567.39 181.15 567.59 M180.35 567.48 C180.35 567.58 180.35 567.97 180.35 568.07" fill="none" stroke="#1e1e1e" stroke-width="0.81" stroke-linecap="round"/>
<path d="M171.0 577.0 L184.0 577.0" fill="none" stroke="#1e1e1e" stroke-width="1.15" stroke-linecap="round"/>
<path d="M184.0 577.0 L179.5 574.8" fill="none" stroke="#1e1e1e" stroke-width="1.15" stroke-linecap="round"/>
<path d="M184.0 577.0 L179.5 579.2" fill="none" stroke="#1e1e1e" stroke-width="1.15" stroke-linecap="round"/>
<text x="189.0" y="580.1" font-family="Liberation Sans, sans-serif" font-size="9.50" font-style="normal" font-weight="normal" fill="#1e1e1e" stroke="#1e1e1e" stroke-width="0.0" textLength="37.0" lengthAdjust="spacingAndGlyphs">Summary</text>
<path d="M231.0 577.0 L247.5 577.0" fill="none" stroke="#1e1e1e" stroke-width="1.15" stroke-linecap="round"/>
<path d="M247.5 577.0 L243.0 574.8" fill="none" stroke="#1e1e1e" stroke-width="1.15" stroke-linecap="round"/>
<path d="M247.5 577.0 L243.0 579.2" fill="none" stroke="#1e1e1e" stroke-width="1.15" stroke-linecap="round"/>
<path d="M254.0 559.2 L254.0 576.8 A9.2 2.2 0 0 0 272.5 576.8 L272.5 559.2" fill="none" stroke="#1e1e1e" stroke-width="0.9"/>
<ellipse cx="263.2" cy="559.2" rx="9.2" ry="2.2" fill="none" stroke="#1e1e1e" stroke-width="0.9"/>
<text x="263.2" y="571.2" font-family="Liberation Mono, monospace" font-size="7.0" text-anchor="middle" fill="#495057" letter-spacing="0.3">{}</text>
<path d="M263 582.5 L263 588" stroke="#1e1e1e" stroke-width="1" stroke-dasharray="2 1.5"/>
<path d="M254.0 593.2 L254.0 610.8 A9.2 2.2 0 0 0 272.5 610.8 L272.5 593.2" fill="none" stroke="#1e1e1e" stroke-width="0.9"/>
<ellipse cx="263.2" cy="593.2" rx="9.2" ry="2.2" fill="none" stroke="#1e1e1e" stroke-width="0.9"/>
<path d="M254.0 599.1 A9.2 2.2 0 0 0 272.5 599.1" fill="none" stroke="#1e1e1e" stroke-width="0.9"/>
<path d="M254.0 604.9 A9.2 2.2 0 0 0 272.5 604.9" fill="none" stroke="#1e1e1e" stroke-width="0.9"/>
<circle cx="265.5" cy="598.1" r="1.0" fill="none" stroke="#1e1e1e" stroke-width="0.72"/>
<circle cx="265.5" cy="604.0" r="1.0" fill="none" stroke="#1e1e1e" stroke-width="0.72"/>
<circle cx="265.5" cy="609.9" r="1.0" fill="none" stroke="#1e1e1e" stroke-width="0.72"/>
<path d="M169.0 584.0 L249.5 597.5" fill="none" stroke="#1e1e1e" stroke-width="1.15" stroke-linecap="round"/>
<path d="M249.5 597.5 L245.8 594.9" fill="none" stroke="#1e1e1e" stroke-width="1.15" stroke-linecap="round"/>
<path d="M249.5 597.5 L245.2 598.8" fill="none" stroke="#1e1e1e" stroke-width="1.15" stroke-linecap="round"/>
<text x="147.0" y="626.7" font-family="Liberation Mono, monospace" font-size="9.20" font-weight="normal" fill="#1e1e1e" stroke="#1e1e1e" stroke-width="0.22" textLength="132.0" lengthAdjust="spacingAndGlyphs">Parent Document, Dense X</text>
<text x="144.0" y="642.9" font-family="Liberation Mono, monospace" font-size="7.60" font-weight="normal" fill="#1e1e1e" stroke="#1e1e1e" stroke-width="0.22" textLength="132.0" lengthAdjust="spacingAndGlyphs">Convert documents into compact</text>
<text x="139.0" y="651.4" font-family="Liberation Mono, monospace" font-size="7.60" font-weight="normal" fill="#1e1e1e" stroke="#1e1e1e" stroke-width="0.22" textLength="144.0" lengthAdjust="spacingAndGlyphs">retrieval units (e.g., a summary)</text>
<rect x="303.0" y="570.0" width="16.0" height="21.5" rx="0.8" fill="#a5d8ff" stroke="#1e1e1e" stroke-width="0.9"/>
<rect x="301.3" y="571.8" width="16.0" height="21.5" rx="0.8" fill="#a5d8ff" stroke="#1e1e1e" stroke-width="0.9"/>
<rect x="299.5" y="573.5" width="16.0" height="21.5" rx="0.8" fill="#a5d8ff" stroke="#1e1e1e" stroke-width="0.9"/>
<rect x="302.1" y="576.1" width="10.9" height="16.3" fill="none" stroke="#1e1e1e" stroke-width="0.63"/>
<path d="M303.0 584.7 L312.0 584.7" stroke="#1e1e1e" stroke-width="0.9" fill="none"/>
<path d="M303.0 587.3 L312.0 587.3" stroke="#1e1e1e" stroke-width="0.9" fill="none"/>
<path d="M303.0 589.8 L312.0 589.8" stroke="#1e1e1e" stroke-width="0.9" fill="none"/>
<path d="M331.10 573.70 C331.21 573.32 331.51 572.76 331.66 572.37 C331.81 571.98 331.76 571.69 332.01 571.37 C332.27 571.05 332.81 570.76 333.19 570.45 C333.57 570.13 333.86 569.69 334.30 569.48 C334.74 569.28 335.31 569.31 335.82 569.23 C336.33 569.15 336.85 568.99 337.36 569.00 C337.87 569.01 338.37 569.21 338.90 569.30 C339.43 569.40 340.05 569.38 340.53 569.59 C341.00 569.80 341.32 570.24 341.76 570.55 C342.20 570.86 342.80 571.13 343.15 571.47 C343.50 571.81 343.61 572.23 343.84 572.60 C344.06 572.97 344.45 573.33 344.50 573.70 C344.55 574.08 344.28 574.48 344.16 574.86 C344.05 575.23 344.05 575.73 343.82 575.96 C343.60 576.19 343.19 576.14 342.84 576.23 C342.48 576.33 342.03 576.41 341.67 576.53 C341.31 576.64 340.92 576.63 340.66 576.91 C340.39 577.18 340.38 577.89 340.09 578.19 C339.79 578.50 339.36 578.59 338.90 578.72 C338.45 578.86 337.87 579.02 337.36 579.00 C336.85 578.98 336.35 578.69 335.82 578.59 C335.29 578.49 334.64 578.54 334.17 578.41 C333.70 578.28 333.39 578.05 332.99 577.81 C332.59 577.58 332.04 577.35 331.78 577.01 C331.52 576.67 331.57 576.16 331.44 575.76 C331.31 575.37 331.06 574.99 331.00 574.65 C330.94 574.30 330.99 574.08 331.10 573.70Z" fill="none" stroke="#1e1e1e" stroke-width="0.9" stroke-linejoin="round"/>
<path d="M333.03 570.32 C333.08 570.56 333.06 571.32 333.36 571.77 C333.67 572.22 334.60 572.80 334.84 573.01 M335.08 569.73 C335.14 569.89 335.21 570.48 335.44 570.69 C335.67 570.91 336.28 570.96 336.45 571.02 M338.27 569.24 C338.23 569.53 337.96 570.65 338.04 570.96 C338.11 571.28 338.60 571.10 338.71 571.12 M338.04 571.12 C337.92 571.32 337.36 571.91 337.36 572.31 C337.36 572.70 337.81 573.26 338.04 573.49 C338.26 573.72 338.60 573.67 338.71 573.70 M336.66 572.06 C336.59 572.26 336.18 572.97 336.22 573.25 C336.26 573.52 336.78 573.63 336.89 573.70 M340.76 571.12 C340.68 571.40 340.22 572.33 340.29 572.76 C340.37 573.19 341.05 573.55 341.20 573.70 M342.58 572.06 C342.47 572.22 342.13 572.81 341.90 573.01 C341.67 573.20 341.32 573.21 341.20 573.25 M333.93 572.76 C334.05 573.00 334.28 573.79 334.66 574.19 C335.04 574.58 335.66 574.90 336.22 575.13 C336.78 575.36 337.58 575.67 338.04 575.59 C338.49 575.51 338.79 574.80 338.94 574.65 M340.53 574.43 C340.53 574.66 340.34 575.48 340.53 575.80 C340.72 576.12 341.48 576.25 341.67 576.34 M331.55 574.43 C331.68 574.39 332.12 574.17 332.35 574.19 C332.58 574.21 332.83 574.48 332.92 574.54 M331.44 575.83 C331.59 575.75 332.05 575.39 332.35 575.37 C332.65 575.35 333.11 575.66 333.26 575.72 M332.35 577.25 C332.46 577.10 332.76 576.43 333.03 576.31 C333.29 576.19 333.78 576.49 333.93 576.53 M334.84 578.19 C334.96 578.00 335.24 577.25 335.54 577.01 C335.85 576.77 336.47 576.81 336.66 576.77 M337.36 578.41 C337.40 578.22 337.38 577.49 337.57 577.25 C337.75 577.02 338.21 576.93 338.48 577.01 C338.75 577.09 339.06 577.59 339.18 577.71 M331.91 572.06 C332.02 572.15 332.28 572.51 332.58 572.55 C332.89 572.59 333.54 572.35 333.73 572.31 M343.25 574.43 C343.24 574.62 343.17 575.39 343.15 575.59 M342.35 575.48 C342.35 575.58 342.35 575.97 342.35 576.07" fill="none" stroke="#1e1e1e" stroke-width="0.81" stroke-linecap="round"/>
<path d="M321.0 583.0 L364.0 583.0" fill="none" stroke="#1e1e1e" stroke-width="1.15" stroke-linecap="round"/>
<path d="M364.0 583.0 L359.5 580.8" fill="none" stroke="#1e1e1e" stroke-width="1.15" stroke-linecap="round"/>
<path d="M364.0 583.0 L359.5 585.2" fill="none" stroke="#1e1e1e" stroke-width="1.15" stroke-linecap="round"/>
<text x="371.0" y="584.5" font-family="Liberation Mono, monospace" font-size="6.50" font-weight="normal" fill="#1e1e1e" stroke="#1e1e1e" stroke-width="0.22" textLength="39.0" lengthAdjust="spacingAndGlyphs">[0.1, ...]</text>
<text x="301.0" y="626.7" font-family="Liberation Mono, monospace" font-size="9.20" font-weight="normal" fill="#1e1e1e" stroke="#1e1e1e" stroke-width="0.22" textLength="109.5" lengthAdjust="spacingAndGlyphs">Fine-tuning, ColBERT</text>
<text x="301.0" y="642.9" font-family="Liberation Mono, monospace" font-size="7.60" font-weight="normal" fill="#1e1e1e" stroke="#1e1e1e" stroke-width="0.22" textLength="106.5" lengthAdjust="spacingAndGlyphs">Domain-specific and / or</text>
<text x="299.0" y="651.4" font-family="Liberation Mono, monospace" font-size="7.60" font-weight="normal" fill="#1e1e1e" stroke="#1e1e1e" stroke-width="0.22" textLength="110.5" lengthAdjust="spacingAndGlyphs">advanced embedding models</text>
<text x="431.0" y="567.3" font-family="Liberation Sans, sans-serif" font-size="8.00" font-style="normal" font-weight="normal" fill="#1e1e1e" stroke="#1e1e1e" stroke-width="0.0" textLength="20.4" lengthAdjust="spacingAndGlyphs">Splits</text>
<text x="495.0" y="558.5" font-family="Liberation Sans, sans-serif" font-size="7.50" font-style="normal" font-weight="normal" fill="#1e1e1e" stroke="#1e1e1e" stroke-width="0.0" textLength="36.0" lengthAdjust="spacingAndGlyphs">Summaries</text>
<rect x="434.5" y="572.5" width="16.0" height="21.5" rx="0.8" fill="#a5d8ff" stroke="#1e1e1e" stroke-width="0.9"/>
<rect x="432.8" y="574.3" width="16.0" height="21.5" rx="0.8" fill="#a5d8ff" stroke="#1e1e1e" stroke-width="0.9"/>
<rect x="431.0" y="576.0" width="16.0" height="21.5" rx="0.8" fill="#a5d8ff" stroke="#1e1e1e" stroke-width="0.9"/>
<rect x="433.6" y="578.6" width="10.9" height="16.3" fill="none" stroke="#1e1e1e" stroke-width="0.63"/>
<path d="M434.5 587.2 L443.5 587.2" stroke="#1e1e1e" stroke-width="0.9" fill="none"/>
<path d="M434.5 589.8 L443.5 589.8" stroke="#1e1e1e" stroke-width="0.9" fill="none"/>
<path d="M434.5 592.3 L443.5 592.3" stroke="#1e1e1e" stroke-width="0.9" fill="none"/>
<path d="M456.0 581.7 L469.0 574.4" fill="none" stroke="#1e1e1e" stroke-width="1.15" stroke-linecap="round"/>
<path d="M469.0 574.4 L464.0 574.7" fill="none" stroke="#1e1e1e" stroke-width="1.15" stroke-linecap="round"/>
<path d="M469.0 574.4 L466.1 578.5" fill="none" stroke="#1e1e1e" stroke-width="1.15" stroke-linecap="round"/>
<path d="M458.5 589.6 L470.8 596.0" fill="none" stroke="#1e1e1e" stroke-width="1.15" stroke-linecap="round"/>
<path d="M470.8 596.0 L467.8 592.0" fill="none" stroke="#1e1e1e" stroke-width="1.15" stroke-linecap="round"/>
<path d="M470.8 596.0 L465.8 595.9" fill="none" stroke="#1e1e1e" stroke-width="1.15" stroke-linecap="round"/>
<text x="472.4" y="577.0" font-family="Liberation Sans, sans-serif" font-size="8.00" font-style="normal" font-weight="normal" fill="#1e1e1e" stroke="#1e1e1e" stroke-width="0.0" textLength="22.3" lengthAdjust="spacingAndGlyphs">Cluser</text>
<text x="475.0" y="598.0" font-family="Liberation Sans, sans-serif" font-size="8.00" font-style="normal" font-weight="normal" fill="#1e1e1e" stroke="#1e1e1e" stroke-width="0.0" textLength="22.0" lengthAdjust="spacingAndGlyphs">Cluser</text>
<rect x="507.0" y="564.7" width="12.6" height="16.3" rx="0.8" fill="#a5d8ff" stroke="#1e1e1e" stroke-width="0.9"/>
<rect x="505.7" y="566.0" width="12.6" height="16.3" rx="0.8" fill="#a5d8ff" stroke="#1e1e1e" stroke-width="0.9"/>
<rect x="507.7" y="567.9" width="8.6" height="12.4" fill="none" stroke="#1e1e1e" stroke-width="0.63"/>
<path d="M508.5 574.5 L515.6 574.5" stroke="#1e1e1e" stroke-width="0.9" fill="none"/>
<path d="M508.5 576.4 L515.6 576.4" stroke="#1e1e1e" stroke-width="0.9" fill="none"/>
<path d="M508.5 578.4 L515.6 578.4" stroke="#1e1e1e" stroke-width="0.9" fill="none"/>
<rect x="507.7" y="589.6" width="11.9" height="15.8" rx="0.8" fill="#a5d8ff" stroke="#1e1e1e" stroke-width="0.9"/>
<rect x="506.5" y="590.8" width="11.9" height="15.8" rx="0.8" fill="#a5d8ff" stroke="#1e1e1e" stroke-width="0.9"/>
<rect x="508.4" y="592.7" width="8.1" height="12.0" fill="none" stroke="#1e1e1e" stroke-width="0.63"/>
<path d="M509.1 599.0 L515.8 599.0" stroke="#1e1e1e" stroke-width="0.9" fill="none"/>
<path d="M509.1 600.9 L515.8 600.9" stroke="#1e1e1e" stroke-width="0.9" fill="none"/>
<path d="M509.1 602.8 L515.8 602.8" stroke="#1e1e1e" stroke-width="0.9" fill="none"/>
<path d="M527.4 571.8 L539.7 565.2" fill="none" stroke="#1e1e1e" stroke-width="1.15" stroke-linecap="round"/>
<path d="M539.7 565.2 L534.7 565.4" fill="none" stroke="#1e1e1e" stroke-width="1.15" stroke-linecap="round"/>
<path d="M539.7 565.2 L536.8 569.2" fill="none" stroke="#1e1e1e" stroke-width="1.15" stroke-linecap="round"/>
<path d="M528.0 579.0 L541.0 585.7" fill="none" stroke="#1e1e1e" stroke-width="1.15" stroke-linecap="round"/>
<path d="M541.0 585.7 L538.0 581.7" fill="none" stroke="#1e1e1e" stroke-width="1.15" stroke-linecap="round"/>
<path d="M541.0 585.7 L536.0 585.6" fill="none" stroke="#1e1e1e" stroke-width="1.15" stroke-linecap="round"/>
<text x="548.0" y="576.7" font-family="Liberation Sans, sans-serif" font-size="7.00" font-style="normal" font-weight="normal" fill="#1e1e1e" stroke="#1e1e1e" stroke-width="0.0" textLength="5.4" lengthAdjust="spacingAndGlyphs">..</text>
<text x="480.0" y="627.1" font-family="Liberation Mono, monospace" font-size="9.20" font-weight="normal" fill="#1e1e1e" stroke="#1e1e1e" stroke-width="0.22" textLength="33.0" lengthAdjust="spacingAndGlyphs">RAPTOR</text>
<text x="429.7" y="643.1" font-family="Liberation Mono, monospace" font-size="7.60" font-weight="normal" fill="#1e1e1e" stroke="#1e1e1e" stroke-width="0.22" textLength="132.3" lengthAdjust="spacingAndGlyphs">Tree of document summarization</text>
<text x="429.7" y="651.8" font-family="Liberation Mono, monospace" font-size="7.60" font-weight="normal" fill="#1e1e1e" stroke="#1e1e1e" stroke-width="0.22" textLength="127.1" lengthAdjust="spacingAndGlyphs">at various abstraction levels</text>
<path d="M661.0 137.0 L661.0 225.5" stroke="#495057" stroke-width="1.0" fill="none"/>
<text x="562.0" y="143.5" font-family="Liberation Sans, sans-serif" font-size="9.00" font-style="normal" font-weight="normal" fill="#1e1e1e" stroke="#1e1e1e" stroke-width="0.0" textLength="31.7" lengthAdjust="spacingAndGlyphs">Ranking</text>
<text x="684.0" y="143.7" font-family="Liberation Sans, sans-serif" font-size="9.00" font-style="normal" font-weight="normal" fill="#1e1e1e" stroke="#1e1e1e" stroke-width="0.0" textLength="47.4" lengthAdjust="spacingAndGlyphs">Refinement</text>
<rect x="537.0" y="149.5" width="10.5" height="13.5" rx="0.8" fill="none" stroke="#1e1e1e" stroke-width="0.8"/>
<path d="M539.6 155.2 L544.9 155.2" stroke="#1e1e1e" stroke-width="0.8" fill="none"/>
<path d="M539.6 157.3 L544.9 157.3" stroke="#1e1e1e" stroke-width="0.8" fill="none"/>
<path d="M539.6 159.5 L544.9 159.5" stroke="#1e1e1e" stroke-width="0.8" fill="none"/>
<rect x="537.0" y="167.5" width="10.5" height="13.5" rx="0.8" fill="none" stroke="#1e1e1e" stroke-width="0.8"/>
<path d="M539.6 173.2 L544.9 173.2" stroke="#1e1e1e" stroke-width="0.8" fill="none"/>
<path d="M539.6 175.3 L544.9 175.3" stroke="#1e1e1e" stroke-width="0.8" fill="none"/>
<path d="M539.6 177.5 L544.9 177.5" stroke="#1e1e1e" stroke-width="0.8" fill="none"/>
<rect x="537.0" y="186.0" width="10.5" height="15.0" rx="0.8" fill="none" stroke="#1e1e1e" stroke-width="0.8"/>
<path d="M539.6 192.3 L544.9 192.3" stroke="#1e1e1e" stroke-width="0.8" fill="none"/>
<path d="M539.6 194.7 L544.9 194.7" stroke="#1e1e1e" stroke-width="0.8" fill="none"/>
<path d="M539.6 197.1 L544.9 197.1" stroke="#1e1e1e" stroke-width="0.8" fill="none"/>
<text x="500.0" y="177.5" font-family="Liberation Sans, sans-serif" font-size="7.50" font-style="normal" font-weight="normal" fill="#1e1e1e" stroke="#1e1e1e" stroke-width="0.0" textLength="30.0" lengthAdjust="spacingAndGlyphs">Question</text>
<path d="M552.0 153.0 Q560.0 163.0 578.0 163.0" fill="none" stroke="#1e1e1e" stroke-width="1.3" stroke-linecap="round"/>
<path d="M578.0 163.0 L573.9 161.0" fill="none" stroke="#1e1e1e" stroke-width="1.3" stroke-linecap="round"/>
<path d="M578.0 163.0 L573.9 165.0" fill="none" stroke="#1e1e1e" stroke-width="1.3" stroke-linecap="round"/>
<path d="M552.0 175.5 L576.0 175.5" fill="none" stroke="#1e1e1e" stroke-width="1.3" stroke-linecap="round"/>
<path d="M576.0 175.5 L571.9 173.5" fill="none" stroke="#1e1e1e" stroke-width="1.3" stroke-linecap="round"/>
<path d="M576.0 175.5 L571.9 177.5" fill="none" stroke="#1e1e1e" stroke-width="1.3" stroke-linecap="round"/>
<path d="M552.5 197.0 Q562.0 186.0 575.0 184.0" fill="none" stroke="#1e1e1e" stroke-width="1.3" stroke-linecap="round"/>
<path d="M575.0 184.0 L570.7 182.7" fill="none" stroke="#1e1e1e" stroke-width="1.3" stroke-linecap="round"/>
<path d="M575.0 184.0 L571.3 186.6" fill="none" stroke="#1e1e1e" stroke-width="1.3" stroke-linecap="round"/>
<path d="M515 187 C525 200 535 212 545 209 C560 205 570 188 585 185.5" fill="none" stroke="#1e1e1e" stroke-width="1.1"/>
<path d="M585 185.5 L579.5 185 M585 185.5 L581 189.5" fill="none" stroke="#1e1e1e" stroke-width="1.1" stroke-linecap="round"/>
<path d="M578.16 173.06 C578.33 172.49 578.79 171.63 579.03 171.05 C579.27 170.46 579.18 170.03 579.58 169.55 C579.97 169.07 580.81 168.64 581.41 168.17 C582.00 167.70 582.45 167.03 583.13 166.73 C583.81 166.42 584.70 166.46 585.50 166.34 C586.29 166.22 587.10 165.98 587.89 166.00 C588.69 166.02 589.47 166.31 590.29 166.46 C591.11 166.60 592.08 166.58 592.82 166.89 C593.56 167.20 594.06 167.85 594.74 168.32 C595.42 168.80 596.36 169.20 596.90 169.71 C597.44 170.22 597.62 170.84 597.97 171.40 C598.32 171.96 598.92 172.49 599.00 173.06 C599.08 173.62 598.65 174.22 598.48 174.78 C598.30 175.35 598.29 176.10 597.95 176.44 C597.61 176.79 596.97 176.71 596.41 176.85 C595.85 176.99 595.16 177.12 594.60 177.29 C594.03 177.46 593.43 177.44 593.02 177.86 C592.61 178.27 592.59 179.34 592.13 179.79 C591.68 180.24 591.00 180.38 590.29 180.58 C589.59 180.78 588.69 181.03 587.89 181.00 C587.10 180.97 586.33 180.54 585.50 180.39 C584.67 180.24 583.66 180.31 582.93 180.11 C582.19 179.92 581.71 179.57 581.10 179.22 C580.48 178.87 579.61 178.53 579.21 178.02 C578.81 177.50 578.88 176.74 578.68 176.15 C578.48 175.55 578.09 174.98 578.00 174.47 C577.91 173.95 577.99 173.63 578.16 173.06Z" fill="none" stroke="#1e1e1e" stroke-width="1.05" stroke-linejoin="round"/>
<path d="M581.15 167.98 C581.24 168.34 581.20 169.48 581.67 170.15 C582.15 170.83 583.59 171.70 583.98 172.01 M584.34 167.09 C584.43 167.33 584.55 168.22 584.91 168.54 C585.26 168.86 586.22 168.94 586.48 169.02 M589.31 166.36 C589.25 166.79 588.83 168.47 588.94 168.94 C589.06 169.41 589.82 169.15 589.99 169.19 M588.94 169.19 C588.77 169.48 587.89 170.37 587.89 170.96 C587.89 171.55 588.59 172.38 588.94 172.73 C589.29 173.08 589.82 173.00 589.99 173.06 M586.80 170.60 C586.69 170.89 586.06 171.96 586.12 172.37 C586.18 172.78 586.99 172.94 587.17 173.06 M593.18 169.19 C593.06 169.60 592.34 171.00 592.46 171.65 C592.57 172.29 593.64 172.82 593.87 173.06 M596.01 170.60 C595.84 170.83 595.32 171.71 594.96 172.01 C594.60 172.30 594.05 172.31 593.87 172.37 M582.56 171.65 C582.75 172.00 583.10 173.19 583.69 173.78 C584.29 174.37 585.24 174.84 586.12 175.19 C586.99 175.54 588.24 176.00 588.94 175.88 C589.65 175.76 590.12 174.70 590.36 174.47 M592.82 174.15 C592.82 174.49 592.52 175.72 592.82 176.20 C593.12 176.68 594.30 176.87 594.60 177.01 M578.85 174.15 C579.06 174.08 579.74 173.76 580.10 173.78 C580.46 173.81 580.84 174.22 580.99 174.31 M578.69 176.24 C578.92 176.13 579.63 175.58 580.10 175.56 C580.57 175.53 581.28 175.99 581.51 176.08 M580.10 178.38 C580.27 178.14 580.74 177.15 581.15 176.97 C581.56 176.79 582.33 177.24 582.56 177.29 M583.98 179.79 C584.16 179.49 584.60 178.37 585.07 178.02 C585.54 177.66 586.51 177.71 586.80 177.65 M587.89 180.11 C587.95 179.82 587.93 178.73 588.22 178.38 C588.51 178.03 589.21 177.90 589.63 178.02 C590.05 178.13 590.54 178.89 590.72 179.06 M579.41 170.60 C579.59 170.72 579.99 171.26 580.46 171.32 C580.93 171.38 581.94 171.02 582.24 170.96 M597.06 174.15 C597.03 174.43 596.93 175.59 596.90 175.88 M595.65 175.72 C595.65 175.87 595.65 176.46 595.65 176.60" fill="none" stroke="#1e1e1e" stroke-width="0.95" stroke-linecap="round"/>
<text x="603.0" y="176.5" font-family="Liberation Sans, sans-serif" font-size="7.50" font-style="normal" font-weight="normal" fill="#1e1e1e" stroke="#1e1e1e" stroke-width="0.0" textLength="36.0" lengthAdjust="spacingAndGlyphs">Relevance</text>
<path d="M610.5 181.5 L631.5 181.5 L624.8 189.2 L624.8 203.0 L617.2 199.3 L617.2 189.2 Z" fill="#c3f5ca" stroke="#1e1e1e" stroke-width="1.9" stroke-linejoin="round"/>
<path d="M621.6 190.5 L621.6 198.7" stroke="#4c8fd6" stroke-width="2.6" fill="none"/>
<rect x="673.3" y="156.0" width="19.7" height="27.4" rx="0.8" fill="#b2f2bb" stroke="#1e1e1e" stroke-width="0.9"/>
<rect x="671.2" y="158.2" width="19.7" height="27.4" rx="0.8" fill="#b2f2bb" stroke="#1e1e1e" stroke-width="0.9"/>
<rect x="669.0" y="160.3" width="19.7" height="27.4" rx="0.8" fill="#b2f2bb" stroke="#1e1e1e" stroke-width="0.9"/>
<path d="M673.9 171.8 L683.8 171.8" stroke="#1e1e1e" stroke-width="0.9" fill="none"/>
<path d="M673.9 176.2 L683.8 176.2" stroke="#1e1e1e" stroke-width="0.9" fill="none"/>
<path d="M696.15 173.34 C696.31 172.75 696.74 171.86 696.96 171.25 C697.18 170.64 697.10 170.19 697.47 169.69 C697.84 169.19 698.63 168.75 699.18 168.26 C699.73 167.77 700.15 167.07 700.79 166.75 C701.42 166.44 702.26 166.48 703.00 166.35 C703.74 166.23 704.49 165.98 705.23 166.00 C705.98 166.02 706.71 166.32 707.47 166.48 C708.24 166.63 709.14 166.60 709.83 166.92 C710.52 167.25 710.99 167.93 711.62 168.42 C712.25 168.91 713.14 169.33 713.64 169.86 C714.14 170.39 714.31 171.03 714.64 171.61 C714.97 172.19 715.52 172.75 715.60 173.34 C715.68 173.93 715.27 174.55 715.11 175.14 C714.95 175.72 714.94 176.50 714.62 176.86 C714.30 177.22 713.71 177.13 713.18 177.28 C712.66 177.43 712.02 177.57 711.49 177.74 C710.96 177.92 710.40 177.90 710.02 178.33 C709.64 178.77 709.62 179.87 709.19 180.34 C708.77 180.81 708.13 180.96 707.47 181.17 C706.81 181.37 705.98 181.63 705.23 181.60 C704.49 181.57 703.77 181.12 703.00 180.96 C702.23 180.81 701.28 180.88 700.60 180.68 C699.91 180.48 699.47 180.11 698.89 179.75 C698.31 179.39 697.51 179.03 697.13 178.50 C696.75 177.96 696.82 177.17 696.63 176.55 C696.45 175.94 696.08 175.34 696.00 174.81 C695.92 174.27 695.99 173.93 696.15 173.34Z" fill="none" stroke="#1e1e1e" stroke-width="1.05" stroke-linejoin="round"/>
<path d="M698.94 168.05 C699.02 168.43 698.99 169.62 699.43 170.32 C699.87 171.02 701.22 171.93 701.58 172.25 M701.92 167.13 C702.01 167.38 702.11 168.31 702.45 168.64 C702.78 168.98 703.67 169.06 703.92 169.15 M706.55 166.38 C706.50 166.82 706.11 168.57 706.21 169.06 C706.32 169.55 707.03 169.27 707.19 169.31 M706.21 169.31 C706.05 169.62 705.23 170.54 705.23 171.16 C705.23 171.77 705.89 172.64 706.21 173.00 C706.54 173.37 707.03 173.28 707.19 173.34 M704.22 170.78 C704.11 171.09 703.52 172.20 703.58 172.63 C703.63 173.05 704.39 173.22 704.56 173.34 M710.17 169.31 C710.06 169.74 709.39 171.20 709.49 171.87 C709.60 172.54 710.59 173.09 710.81 173.34 M712.81 170.78 C712.65 171.03 712.16 171.94 711.83 172.25 C711.50 172.56 710.98 172.56 710.81 172.63 M700.26 171.87 C700.44 172.24 700.76 173.48 701.31 174.09 C701.87 174.71 702.76 175.20 703.58 175.56 C704.39 175.92 705.56 176.40 706.21 176.27 C706.87 176.15 707.31 175.05 707.53 174.81 M709.83 174.47 C709.83 174.83 709.56 176.11 709.83 176.61 C710.11 177.11 711.22 177.31 711.49 177.45 M696.79 174.47 C696.99 174.41 697.63 174.07 697.96 174.09 C698.29 174.12 698.65 174.55 698.79 174.64 M696.64 176.65 C696.86 176.53 697.52 175.97 697.96 175.94 C698.40 175.91 699.06 176.39 699.28 176.48 M697.96 178.87 C698.12 178.63 698.56 177.60 698.94 177.41 C699.32 177.22 700.04 177.69 700.26 177.74 M701.58 180.34 C701.75 180.03 702.16 178.87 702.60 178.50 C703.04 178.13 703.95 178.18 704.22 178.12 M705.23 180.68 C705.28 180.38 705.27 179.24 705.54 178.87 C705.81 178.51 706.47 178.38 706.86 178.50 C707.24 178.62 707.70 179.41 707.87 179.59 M697.32 170.78 C697.48 170.91 697.86 171.47 698.30 171.54 C698.74 171.60 699.68 171.22 699.96 171.16 M713.79 174.47 C713.77 174.77 713.67 175.97 713.64 176.27 M712.47 176.11 C712.47 176.26 712.47 176.88 712.47 177.03" fill="none" stroke="#1e1e1e" stroke-width="0.95" stroke-linecap="round"/>
<path d="M715.6 173.8 L725.8 173.8" fill="none" stroke="#1e1e1e" stroke-width="1.3" stroke-linecap="round"/>
<path d="M725.8 173.8 L722.6 172.3" fill="none" stroke="#1e1e1e" stroke-width="1.3" stroke-linecap="round"/>
<path d="M725.8 173.8 L722.6 175.3" fill="none" stroke="#1e1e1e" stroke-width="1.3" stroke-linecap="round"/>
<rect x="731.2" y="165.0" width="11.8" height="15.8" rx="0.8" fill="#b2f2bb" stroke="#1e1e1e" stroke-width="0.9"/>
<rect x="730.0" y="166.2" width="11.8" height="15.8" rx="0.8" fill="#b2f2bb" stroke="#1e1e1e" stroke-width="0.9"/>
<path d="M733.0 172.8 L738.9 172.8" stroke="#1e1e1e" stroke-width="0.9" fill="none"/>
<path d="M733.0 175.4 L738.9 175.4" stroke="#1e1e1e" stroke-width="0.9" fill="none"/>
<text x="498.0" y="224.9" font-family="Liberation Mono, monospace" font-size="9.20" font-weight="normal" fill="#1e1e1e" stroke="#1e1e1e" stroke-width="0.22" textLength="154.5" lengthAdjust="spacingAndGlyphs">Re-Rank, RankGPT, RAG-Fusion</text>
<text x="693.8" y="224.4" font-family="Liberation Mono, monospace" font-size="9.20" font-weight="normal" fill="#1e1e1e" stroke="#1e1e1e" stroke-width="0.22" textLength="21.8" lengthAdjust="spacingAndGlyphs">CRAG</text>
<text x="505.5" y="241.4" font-family="Liberation Mono, monospace" font-size="7.60" font-weight="normal" fill="#1e1e1e" stroke="#1e1e1e" stroke-width="0.22" textLength="240.0" lengthAdjust="spacingAndGlyphs">Rank or filter / compress documents based on relevance</text>
<path d="M502 250 L739.5 250 M502 251.6 L739.5 251.6" stroke="#495057" stroke-width="0.8" fill="none"/>
<text x="522.4" y="280.8" font-family="Liberation Sans, sans-serif" font-size="12.00" font-style="italic" font-weight="normal" fill="#1e1e1e" stroke="#1e1e1e" stroke-width="0.0" textLength="70.1" lengthAdjust="spacingAndGlyphs">Active retieval</text>
<path d="M609.0 260.4 L609.0 278.6 A10.0 2.4 0 0 0 629.0 278.6 L629.0 260.4" fill="none" stroke="#1e1e1e" stroke-width="0.9"/>
<ellipse cx="619.0" cy="260.4" rx="10.0" ry="2.4" fill="none" stroke="#1e1e1e" stroke-width="0.9"/>
<text x="619.0" y="272.9" font-family="Liberation Mono, monospace" font-size="7.4" text-anchor="middle" fill="#495057" letter-spacing="0.3">{}</text>
<path d="M635.6 272.0 L654.4 272.0" fill="none" stroke="#343a40" stroke-width="1.3" stroke-linecap="round"/>
<path d="M654.4 272.0 L650.8 270.3" fill="none" stroke="#343a40" stroke-width="1.3" stroke-linecap="round"/>
<path d="M654.4 272.0 L650.8 273.7" fill="none" stroke="#343a40" stroke-width="1.3" stroke-linecap="round"/>
<rect x="662.3" y="258.0" width="14.7" height="21.0" rx="0.8" fill="#b2f2bb" stroke="#1e1e1e" stroke-width="0.9"/>
<rect x="660.8" y="259.5" width="14.7" height="21.0" rx="0.8" fill="#b2f2bb" stroke="#1e1e1e" stroke-width="0.9"/>
<path d="M664.5 268.3 L671.9 268.3" stroke="#1e1e1e" stroke-width="0.9" fill="none"/>
<path d="M664.5 271.7 L671.9 271.7" stroke="#1e1e1e" stroke-width="0.9" fill="none"/>
<path d="M664.5 275.0 L671.9 275.0" stroke="#1e1e1e" stroke-width="0.9" fill="none"/>
<path d="M639.15 288.41 C639.30 287.97 639.72 287.32 639.93 286.87 C640.15 286.42 640.07 286.09 640.42 285.72 C640.78 285.35 641.55 285.02 642.08 284.66 C642.62 284.30 643.02 283.79 643.64 283.56 C644.26 283.32 645.07 283.35 645.79 283.26 C646.50 283.17 647.23 282.99 647.95 283.00 C648.67 283.01 649.38 283.24 650.12 283.35 C650.86 283.46 651.74 283.44 652.41 283.68 C653.08 283.92 653.53 284.42 654.14 284.78 C654.76 285.14 655.61 285.45 656.10 285.84 C656.59 286.24 656.75 286.71 657.07 287.14 C657.38 287.57 657.92 287.98 658.00 288.41 C658.08 288.84 657.68 289.30 657.53 289.73 C657.37 290.17 657.36 290.74 657.05 291.01 C656.74 291.27 656.16 291.21 655.66 291.32 C655.15 291.42 654.53 291.53 654.02 291.66 C653.51 291.79 652.96 291.77 652.59 292.09 C652.22 292.41 652.20 293.22 651.79 293.57 C651.38 293.92 650.76 294.02 650.12 294.18 C649.48 294.33 648.67 294.52 647.95 294.50 C647.23 294.48 646.53 294.14 645.79 294.03 C645.04 293.92 644.12 293.97 643.46 293.82 C642.79 293.67 642.36 293.40 641.80 293.14 C641.24 292.87 640.46 292.61 640.10 292.21 C639.73 291.82 639.80 291.23 639.61 290.78 C639.43 290.33 639.08 289.89 639.00 289.49 C638.92 289.10 638.99 288.85 639.15 288.41Z" fill="none" stroke="#1e1e1e" stroke-width="1.05" stroke-linejoin="round"/>
<path d="M641.85 284.51 C641.93 284.79 641.90 285.67 642.33 286.18 C642.75 286.70 644.06 287.37 644.41 287.61 M644.74 283.83 C644.82 284.02 644.93 284.70 645.25 284.95 C645.57 285.19 646.44 285.26 646.67 285.32 M649.23 283.28 C649.18 283.61 648.80 284.90 648.90 285.26 C649.01 285.62 649.69 285.41 649.85 285.44 M648.90 285.44 C648.74 285.67 647.95 286.35 647.95 286.80 C647.95 287.26 648.59 287.89 648.90 288.16 C649.22 288.43 649.69 288.37 649.85 288.41 M646.97 286.52 C646.86 286.75 646.29 287.57 646.34 287.88 C646.40 288.20 647.14 288.32 647.29 288.41 M652.74 285.44 C652.63 285.76 651.98 286.83 652.08 287.33 C652.18 287.82 653.15 288.23 653.36 288.41 M655.30 286.52 C655.14 286.70 654.67 287.38 654.35 287.61 C654.02 287.83 653.52 287.84 653.36 287.88 M643.13 287.33 C643.30 287.60 643.62 288.51 644.15 288.97 C644.69 289.42 645.55 289.78 646.34 290.05 C647.14 290.32 648.26 290.67 648.90 290.57 C649.54 290.48 649.97 289.67 650.18 289.49 M652.41 289.24 C652.41 289.51 652.14 290.46 652.41 290.82 C652.68 291.19 653.75 291.34 654.02 291.44 M639.77 289.24 C639.96 289.20 640.58 288.95 640.90 288.97 C641.22 288.99 641.57 289.30 641.70 289.37 M639.62 290.85 C639.83 290.76 640.47 290.35 640.90 290.33 C641.33 290.31 641.97 290.66 642.18 290.73 M640.90 292.49 C641.06 292.31 641.48 291.55 641.85 291.41 C642.22 291.27 642.92 291.61 643.13 291.66 M644.41 293.57 C644.57 293.35 644.97 292.49 645.39 292.21 C645.82 291.94 646.70 291.98 646.97 291.93 M647.95 293.82 C648.00 293.60 647.98 292.76 648.24 292.49 C648.51 292.22 649.15 292.12 649.52 292.21 C649.90 292.30 650.35 292.88 650.51 293.02 M640.28 286.52 C640.44 286.62 640.80 287.03 641.23 287.08 C641.66 287.13 642.57 286.85 642.84 286.80 M656.25 289.24 C656.22 289.47 656.12 290.35 656.10 290.57 M654.97 290.45 C654.97 290.56 654.97 291.02 654.97 291.13" fill="none" stroke="#1e1e1e" stroke-width="0.95" stroke-linecap="round"/>
<path d="M669 281 L657 289" stroke="#1e1e1e" stroke-width="1" fill="none"/>
<path d="M639.0 290.6 Q630.0 290.0 624.0 284.0" fill="none" stroke="#1e1e1e" stroke-width="1.3" stroke-linecap="round"/>
<path d="M624.0 284.0 L625.5 288.2" fill="none" stroke="#1e1e1e" stroke-width="1.3" stroke-linecap="round"/>
<path d="M624.0 284.0 L628.2 285.5" fill="none" stroke="#1e1e1e" stroke-width="1.3" stroke-linecap="round"/>
<text x="693.0" y="279.7" font-family="Liberation Mono, monospace" font-size="9.20" font-weight="normal" fill="#1e1e1e" stroke="#1e1e1e" stroke-width="0.22" textLength="22.5" lengthAdjust="spacingAndGlyphs">CRAG</text>
<text x="509.0" y="306.9" font-family="Liberation Mono, monospace" font-size="7.60" font-weight="normal" fill="#1e1e1e" stroke="#1e1e1e" stroke-width="0.22" textLength="220.0" lengthAdjust="spacingAndGlyphs">Re-retrieve and / or retrive from new data sources</text>
<text x="509.0" y="316.4" font-family="Liberation Mono, monospace" font-size="7.60" font-weight="normal" fill="#1e1e1e" stroke="#1e1e1e" stroke-width="0.22" textLength="226.0" lengthAdjust="spacingAndGlyphs">(e.g., web) if retrieved documents are not relevant</text>
<text x="635.0" y="547.4" font-family="Liberation Sans, sans-serif" font-size="11.50" font-style="normal" font-weight="normal" fill="#1e1e1e" stroke="#1e1e1e" stroke-width="0.0" textLength="71.7" lengthAdjust="spacingAndGlyphs">Active retieval</text>
<path d="M596.0 556.8 L596.0 575.8 A9.0 2.2 0 0 0 614.0 575.8 L614.0 556.8" fill="none" stroke="#1e1e1e" stroke-width="0.9"/>
<ellipse cx="605.0" cy="556.8" rx="9.0" ry="2.2" fill="none" stroke="#1e1e1e" stroke-width="0.9"/>
<text x="605.0" y="569.6" font-family="Liberation Mono, monospace" font-size="7.5" text-anchor="middle" fill="#495057" letter-spacing="0.3">{}</text>
<path d="M619.0 569.2 L636.0 569.2" fill="none" stroke="#343a40" stroke-width="1.3" stroke-linecap="round"/>
<path d="M636.0 569.2 L632.4 567.5" fill="none" stroke="#343a40" stroke-width="1.3" stroke-linecap="round"/>
<path d="M636.0 569.2 L632.4 570.9" fill="none" stroke="#343a40" stroke-width="1.3" stroke-linecap="round"/>
<rect x="643.0" y="556.0" width="15.5" height="20.0" rx="0.8" fill="#d0bfff" stroke="#1e1e1e" stroke-width="0.9"/>
<rect x="641.5" y="557.5" width="15.5" height="20.0" rx="0.8" fill="#d0bfff" stroke="#1e1e1e" stroke-width="0.9"/>
<path d="M645.4 565.9 L653.1 565.9" stroke="#1e1e1e" stroke-width="0.9" fill="none"/>
<path d="M645.4 569.1 L653.1 569.1" stroke="#1e1e1e" stroke-width="0.9" fill="none"/>
<path d="M645.4 572.3 L653.1 572.3" stroke="#1e1e1e" stroke-width="0.9" fill="none"/>
<path d="M661.6 569.2 L674.5 569.2" fill="none" stroke="#343a40" stroke-width="1.3" stroke-linecap="round"/>
<path d="M674.5 569.2 L670.9 567.5" fill="none" stroke="#343a40" stroke-width="1.3" stroke-linecap="round"/>
<path d="M674.5 569.2 L670.9 570.9" fill="none" stroke="#343a40" stroke-width="1.3" stroke-linecap="round"/>
<path d="M678.78 569.00 C678.96 568.35 679.47 567.38 679.72 566.72 C679.98 566.06 679.89 565.57 680.32 565.02 C680.75 564.48 681.67 563.99 682.32 563.46 C682.96 562.93 683.45 562.17 684.19 561.82 C684.94 561.48 685.91 561.52 686.78 561.39 C687.64 561.25 688.52 560.98 689.39 561.00 C690.26 561.02 691.11 561.35 692.00 561.52 C692.90 561.69 693.95 561.65 694.76 562.01 C695.57 562.36 696.11 563.10 696.85 563.63 C697.59 564.17 698.62 564.62 699.21 565.20 C699.80 565.78 700.00 566.49 700.38 567.12 C700.76 567.75 701.41 568.36 701.50 569.00 C701.59 569.64 701.12 570.32 700.93 570.96 C700.74 571.60 700.73 572.45 700.36 572.84 C699.98 573.23 699.29 573.13 698.68 573.29 C698.07 573.45 697.32 573.60 696.70 573.80 C696.08 573.99 695.43 573.97 694.98 574.44 C694.53 574.91 694.51 576.11 694.01 576.63 C693.52 577.14 692.78 577.30 692.00 577.53 C691.23 577.75 690.26 578.04 689.39 578.00 C688.52 577.96 687.68 577.47 686.78 577.31 C685.87 577.14 684.77 577.22 683.97 576.99 C683.17 576.77 682.65 576.38 681.98 575.98 C681.30 575.59 680.36 575.20 679.92 574.62 C679.48 574.04 679.56 573.17 679.34 572.50 C679.12 571.83 678.69 571.18 678.60 570.60 C678.51 570.01 678.59 569.64 678.78 569.00Z" fill="none" stroke="#1e1e1e" stroke-width="1.05" stroke-linejoin="round"/>
<path d="M682.04 563.24 C682.13 563.65 682.09 564.95 682.61 565.71 C683.12 566.47 684.70 567.46 685.12 567.81 M685.51 562.23 C685.62 562.51 685.74 563.51 686.13 563.88 C686.52 564.24 687.56 564.34 687.85 564.43 M690.93 561.41 C690.86 561.90 690.41 563.80 690.53 564.34 C690.66 564.87 691.49 564.56 691.68 564.61 M690.53 564.61 C690.34 564.95 689.39 565.95 689.39 566.62 C689.39 567.29 690.15 568.24 690.53 568.63 C690.92 569.03 691.49 568.94 691.68 569.00 M688.20 566.21 C688.08 566.54 687.39 567.76 687.45 568.22 C687.52 568.69 688.41 568.87 688.60 569.00 M695.16 564.61 C695.03 565.07 694.24 566.67 694.37 567.40 C694.49 568.13 695.65 568.73 695.91 569.00 M698.24 566.21 C698.05 566.48 697.49 567.47 697.10 567.81 C696.71 568.14 696.11 568.15 695.91 568.22 M683.58 567.40 C683.78 567.80 684.16 569.15 684.81 569.82 C685.46 570.49 686.50 571.02 687.45 571.42 C688.41 571.82 689.76 572.33 690.53 572.20 C691.31 572.06 691.82 570.86 692.08 570.60 M694.76 570.23 C694.76 570.62 694.44 572.02 694.76 572.56 C695.09 573.10 696.38 573.32 696.70 573.48 M679.52 570.23 C679.75 570.16 680.50 569.79 680.89 569.82 C681.28 569.85 681.70 570.31 681.86 570.41 M679.35 572.61 C679.61 572.48 680.38 571.86 680.89 571.83 C681.40 571.80 682.17 572.33 682.43 572.42 M680.89 575.03 C681.08 574.76 681.59 573.64 682.04 573.43 C682.48 573.22 683.32 573.73 683.58 573.80 M685.12 576.63 C685.32 576.29 685.79 575.02 686.31 574.62 C686.82 574.21 687.88 574.28 688.20 574.21 M689.39 576.99 C689.45 576.67 689.43 575.43 689.74 575.03 C690.06 574.63 690.83 574.49 691.28 574.62 C691.74 574.75 692.27 575.61 692.47 575.81 M680.14 566.21 C680.33 566.35 680.77 566.96 681.29 567.03 C681.80 567.10 682.90 566.69 683.22 566.62 M699.39 570.23 C699.36 570.56 699.24 571.87 699.21 572.20 M697.84 572.01 C697.84 572.18 697.84 572.85 697.84 573.02" fill="none" stroke="#1e1e1e" stroke-width="0.95" stroke-linecap="round"/>
<path d="M706.0 569.2 L720.0 569.2" fill="none" stroke="#343a40" stroke-width="1.3" stroke-linecap="round"/>
<path d="M720.0 569.2 L716.4 567.5" fill="none" stroke="#343a40" stroke-width="1.3" stroke-linecap="round"/>
<path d="M720.0 569.2 L716.4 570.9" fill="none" stroke="#343a40" stroke-width="1.3" stroke-linecap="round"/>
<text x="723.5" y="571.5" font-family="Liberation Sans, sans-serif" font-size="7.50" font-style="italic" font-weight="normal" fill="#1e1e1e" stroke="#1e1e1e" stroke-width="0.0" textLength="23.9" lengthAdjust="spacingAndGlyphs">Answer</text>
<path d="M721.3 579.4 C705 590 690 596 684 596 M665 597 C650 597 635 593 624 588" fill="none" stroke="#1e1e1e" stroke-width="1"/>
<path d="M623.6 587.6 L630 587 M623.6 587.6 L627.5 592.5" fill="none" stroke="#1e1e1e" stroke-width="1" stroke-linecap="round"/>
<path d="M665.15 594.83 C665.30 594.36 665.72 593.66 665.93 593.17 C666.15 592.69 666.07 592.33 666.42 591.93 C666.78 591.54 667.55 591.18 668.08 590.79 C668.62 590.40 669.02 589.85 669.64 589.60 C670.26 589.35 671.07 589.38 671.79 589.28 C672.50 589.18 673.23 588.98 673.95 589.00 C674.67 589.02 675.38 589.26 676.12 589.38 C676.86 589.50 677.74 589.48 678.41 589.73 C679.08 589.99 679.53 590.53 680.14 590.92 C680.76 591.31 681.61 591.64 682.10 592.07 C682.59 592.49 682.75 593.00 683.07 593.46 C683.38 593.92 683.92 594.37 684.00 594.83 C684.08 595.30 683.68 595.79 683.53 596.26 C683.37 596.73 683.36 597.35 683.05 597.63 C682.74 597.92 682.16 597.85 681.66 597.97 C681.15 598.08 680.53 598.19 680.02 598.33 C679.51 598.47 678.96 598.46 678.59 598.80 C678.22 599.15 678.20 600.02 677.79 600.40 C677.38 600.78 676.76 600.89 676.12 601.05 C675.48 601.22 674.67 601.43 673.95 601.40 C673.23 601.37 672.53 601.02 671.79 600.89 C671.04 600.77 670.12 600.83 669.46 600.67 C668.79 600.51 668.36 600.22 667.80 599.93 C667.24 599.64 666.46 599.36 666.10 598.93 C665.73 598.51 665.80 597.88 665.61 597.39 C665.43 596.90 665.08 596.43 665.00 596.00 C664.92 595.57 664.99 595.30 665.15 594.83Z" fill="none" stroke="#1e1e1e" stroke-width="1.05" stroke-linejoin="round"/>
<path d="M667.85 590.63 C667.93 590.93 667.90 591.88 668.33 592.43 C668.75 592.99 670.06 593.71 670.41 593.97 M670.74 589.90 C670.82 590.10 670.93 590.83 671.25 591.10 C671.57 591.37 672.44 591.43 672.67 591.50 M675.23 589.30 C675.18 589.66 674.80 591.04 674.90 591.43 C675.01 591.82 675.69 591.60 675.85 591.63 M674.90 591.63 C674.74 591.88 673.95 592.61 673.95 593.10 C673.95 593.59 674.59 594.28 674.90 594.57 C675.22 594.86 675.69 594.79 675.85 594.83 M672.97 592.80 C672.86 593.04 672.29 593.93 672.34 594.27 C672.40 594.61 673.14 594.74 673.29 594.83 M678.74 591.63 C678.63 591.97 677.98 593.13 678.08 593.67 C678.18 594.20 679.15 594.64 679.36 594.83 M681.30 592.80 C681.14 592.99 680.67 593.72 680.35 593.97 C680.02 594.21 679.52 594.22 679.36 594.27 M669.13 593.67 C669.30 593.96 669.62 594.94 670.15 595.43 C670.69 595.92 671.55 596.31 672.34 596.60 C673.14 596.89 674.26 597.27 674.90 597.17 C675.54 597.07 675.97 596.19 676.18 596.00 M678.41 595.73 C678.41 596.02 678.14 597.04 678.41 597.43 C678.68 597.83 679.75 597.99 680.02 598.10 M665.77 595.73 C665.96 595.68 666.58 595.41 666.90 595.43 C667.22 595.46 667.57 595.79 667.70 595.87 M665.62 597.47 C665.83 597.37 666.47 596.92 666.90 596.90 C667.33 596.88 667.97 597.26 668.18 597.33 M666.90 599.23 C667.06 599.04 667.48 598.22 667.85 598.07 C668.22 597.92 668.92 598.29 669.13 598.33 M670.41 600.40 C670.57 600.16 670.97 599.23 671.39 598.93 C671.82 598.64 672.70 598.68 672.97 598.63 M673.95 600.67 C674.00 600.43 673.98 599.52 674.24 599.23 C674.51 598.94 675.15 598.84 675.52 598.93 C675.90 599.03 676.35 599.66 676.51 599.80 M666.28 592.80 C666.44 592.90 666.80 593.35 667.23 593.40 C667.66 593.45 668.57 593.15 668.84 593.10 M682.25 595.73 C682.22 595.97 682.12 596.93 682.10 597.17 M680.97 597.03 C680.97 597.16 680.97 597.64 680.97 597.77" fill="none" stroke="#1e1e1e" stroke-width="0.95" stroke-linecap="round"/>
<text x="636.0" y="620.8" font-family="Liberation Mono, monospace" font-size="9.50" font-weight="normal" fill="#1e1e1e" stroke="#1e1e1e" stroke-width="0.22" textLength="74.0" lengthAdjust="spacingAndGlyphs">Self-RAG, RRR</text>
<text x="594.8" y="636.8" font-family="Liberation Mono, monospace" font-size="7.70" font-weight="normal" fill="#1e1e1e" stroke="#1e1e1e" stroke-width="0.22" textLength="148.5" lengthAdjust="spacingAndGlyphs">Use generation quality to inform</text>
<text x="603.6" y="646.4" font-family="Liberation Mono, monospace" font-size="7.70" font-weight="normal" fill="#1e1e1e" stroke="#1e1e1e" stroke-width="0.22" textLength="130.9" lengthAdjust="spacingAndGlyphs">question re-writing and / or</text>
<text x="611.0" y="656.6" font-family="Liberation Mono, monospace" font-size="7.70" font-weight="normal" fill="#1e1e1e" stroke="#1e1e1e" stroke-width="0.22" textLength="115.8" lengthAdjust="spacingAndGlyphs">re-retrieval of documents</text>
<text x="157.0" y="374.8" font-family="Liberation Sans, sans-serif" font-size="10.00" font-style="normal" font-weight="normal" fill="#1e1e1e" stroke="#1e1e1e" stroke-width="0.3" textLength="39.0" lengthAdjust="spacingAndGlyphs">Question</text>
<path d="M200.0 372.0 L236.0 372.0" fill="none" stroke="#1e1e1e" stroke-width="3.0" stroke-linecap="round"/>
<path d="M236.0 372.0 L223.1 366.5" fill="none" stroke="#1e1e1e" stroke-width="3.0" stroke-linecap="round"/>
<path d="M236.0 372.0 L223.1 377.5" fill="none" stroke="#1e1e1e" stroke-width="3.0" stroke-linecap="round"/>
<circle cx="249.5" cy="371.5" r="11.4" fill="#ffc9c9" stroke="#1e1e1e" stroke-width="1.5"/>
<path d="M264.0 372.0 L287.0 372.0" fill="none" stroke="#1e1e1e" stroke-width="2.4" stroke-linecap="round"/>
<path d="M287.0 372.0 L277.9 367.9" fill="none" stroke="#1e1e1e" stroke-width="2.4" stroke-linecap="round"/>
<path d="M287.0 372.0 L277.9 376.1" fill="none" stroke="#1e1e1e" stroke-width="2.4" stroke-linecap="round"/>
<circle cx="301" cy="371.5" r="11.4" fill="#ffd8a8" stroke="#1e1e1e" stroke-width="1.5"/>
<path d="M314 373.6 Q350.3 366 385 349.4" fill="none" stroke="#1e1e1e" stroke-width="3.0" stroke-linecap="round"/>
<path d="M314 373.8 L382 373.8" fill="none" stroke="#1e1e1e" stroke-width="3.0" stroke-linecap="round"/>
<path d="M314 374.3 Q353.7 374.6 386.3 394.4" fill="none" stroke="#1e1e1e" stroke-width="3.0" stroke-linecap="round"/>
<circle cx="394" cy="340" r="11.6" fill="#ffe991" stroke="#1e1e1e" stroke-width="1.5"/>
<circle cx="394" cy="371" r="11.6" fill="#ffe991" stroke="#1e1e1e" stroke-width="1.5"/>
<circle cx="394" cy="404" r="11.6" fill="#ffe991" stroke="#1e1e1e" stroke-width="1.5"/>
<path d="M403.0 331.0 L428.0 309.0" fill="none" stroke="#1e1e1e" stroke-width="2.6" stroke-linecap="round"/>
<path d="M428.0 309.0 L417.5 312.3" fill="none" stroke="#1e1e1e" stroke-width="2.6" stroke-linecap="round"/>
<path d="M428.0 309.0 L423.4 319.0" fill="none" stroke="#1e1e1e" stroke-width="2.6" stroke-linecap="round"/>
<path d="M406.0 373.8 L428.0 373.8" fill="none" stroke="#1e1e1e" stroke-width="2.6" stroke-linecap="round"/>
<path d="M428.0 373.8 L418.0 369.3" fill="none" stroke="#1e1e1e" stroke-width="2.6" stroke-linecap="round"/>
<path d="M428.0 373.8 L418.0 378.3" fill="none" stroke="#1e1e1e" stroke-width="2.6" stroke-linecap="round"/>
<path d="M401.0 413.0 L428.0 450.0" fill="none" stroke="#1e1e1e" stroke-width="2.6" stroke-linecap="round"/>
<path d="M428.0 450.0 L425.7 439.2" fill="none" stroke="#1e1e1e" stroke-width="2.6" stroke-linecap="round"/>
<path d="M428.0 450.0 L418.5 444.5" fill="none" stroke="#1e1e1e" stroke-width="2.6" stroke-linecap="round"/>
<path d="M430.0 282.2 L430.0 316.3 A17.8 3.2 0 0 0 465.5 316.3 L465.5 282.2" fill="#dcefff" stroke="#1e1e1e" stroke-width="1.2"/>
<ellipse cx="447.8" cy="282.2" rx="17.8" ry="3.2" fill="#dcefff" stroke="#1e1e1e" stroke-width="1.2"/>
<path d="M447.8 290.8L458.2 298.4M447.8 290.8L454.2 310.7M447.8 290.8L441.3 310.7M447.8 290.8L437.3 298.4M458.2 298.4L454.2 310.7M458.2 298.4L441.3 310.7M458.2 298.4L437.3 298.4M454.2 310.7L441.3 310.7M454.2 310.7L437.3 298.4M441.3 310.7L437.3 298.4" fill="none" stroke="#1e1e1e" stroke-width="0.84"/>
<circle cx="447.8" cy="290.8" r="1.9" fill="#dcefff" stroke="#1e1e1e" stroke-width="0.84"/>
<circle cx="458.2" cy="298.4" r="1.9" fill="#dcefff" stroke="#1e1e1e" stroke-width="0.84"/>
<circle cx="454.2" cy="310.7" r="1.9" fill="#dcefff" stroke="#1e1e1e" stroke-width="0.84"/>
<circle cx="441.3" cy="310.7" r="1.9" fill="#dcefff" stroke="#1e1e1e" stroke-width="0.84"/>
<circle cx="437.3" cy="298.4" r="1.9" fill="#dcefff" stroke="#1e1e1e" stroke-width="0.84"/>
<path d="M429.6 355.1 L429.6 388.9 A16.6 3.6 0 0 0 462.8 388.9 L462.8 355.1" fill="#dcefff" stroke="#1e1e1e" stroke-width="1.2"/>
<ellipse cx="446.2" cy="355.1" rx="16.6" ry="3.6" fill="#dcefff" stroke="#1e1e1e" stroke-width="1.2"/>
<path d="M429.6 366.4 A16.6 3.6 0 0 0 462.8 366.4" fill="none" stroke="#1e1e1e" stroke-width="1.2"/>
<path d="M429.6 377.6 A16.6 3.6 0 0 0 462.8 377.6" fill="none" stroke="#1e1e1e" stroke-width="1.2"/>
<circle cx="446.2" cy="364.0" r="1.8" fill="none" stroke="#1e1e1e" stroke-width="0.96"/>
<circle cx="446.2" cy="375.2" r="1.8" fill="none" stroke="#1e1e1e" stroke-width="0.96"/>
<circle cx="446.2" cy="386.5" r="1.8" fill="none" stroke="#1e1e1e" stroke-width="0.96"/>
<path d="M430.0 428.4 L430.0 463.6 A16.8 3.4 0 0 0 463.5 463.6 L463.5 428.4" fill="#dcefff" stroke="#1e1e1e" stroke-width="1.2"/>
<ellipse cx="446.8" cy="428.4" rx="16.8" ry="3.4" fill="#dcefff" stroke="#1e1e1e" stroke-width="1.2"/>
<text x="446.8" y="451.5" font-family="Liberation Mono, monospace" font-size="12.6" text-anchor="middle" fill="#495057" letter-spacing="0.5">{}</text>
<text x="425.0" y="329.9" font-family="Liberation Sans, sans-serif" font-size="9.50" font-style="normal" font-weight="normal" fill="#1e1e1e" stroke="#1e1e1e" stroke-width="0.3" textLength="45.0" lengthAdjust="spacingAndGlyphs">Graph DB</text>
<text x="413.0" y="402.4" font-family="Liberation Sans, sans-serif" font-size="9.50" font-style="normal" font-weight="normal" fill="#1e1e1e" stroke="#1e1e1e" stroke-width="0.3" textLength="65.0" lengthAdjust="spacingAndGlyphs">Relational DB</text>
<text x="419.0" y="476.1" font-family="Liberation Sans, sans-serif" font-size="9.50" font-style="normal" font-weight="normal" fill="#1e1e1e" stroke="#1e1e1e" stroke-width="0.3" textLength="55.0" lengthAdjust="spacingAndGlyphs">Vectorstore</text>
<path d="M469.0 302.0 Q474.0 338.0 497.0 344.0" fill="none" stroke="#1e1e1e" stroke-width="2.6" stroke-linecap="round"/>
<path d="M497.0 344.0 L488.4 337.1" fill="none" stroke="#1e1e1e" stroke-width="2.6" stroke-linecap="round"/>
<path d="M497.0 344.0 L486.1 345.8" fill="none" stroke="#1e1e1e" stroke-width="2.6" stroke-linecap="round"/>
<path d="M465.5 374.0 L495.5 374.0" fill="none" stroke="#1e1e1e" stroke-width="2.6" stroke-linecap="round"/>
<path d="M495.5 374.0 L485.5 369.5" fill="none" stroke="#1e1e1e" stroke-width="2.6" stroke-linecap="round"/>
<path d="M495.5 374.0 L485.5 378.5" fill="none" stroke="#1e1e1e" stroke-width="2.6" stroke-linecap="round"/>
<path d="M467.0 449.0 Q471.0 404.0 498.0 393.5" fill="none" stroke="#1e1e1e" stroke-width="2.6" stroke-linecap="round"/>
<path d="M498.0 393.5 L487.0 393.0" fill="none" stroke="#1e1e1e" stroke-width="2.6" stroke-linecap="round"/>
<path d="M498.0 393.5 L490.3 401.3" fill="none" stroke="#1e1e1e" stroke-width="2.6" stroke-linecap="round"/>
<rect x="507.8" y="344.0" width="26.2" height="38.2" rx="0.8" fill="#fff" stroke="#1e1e1e" stroke-width="1.0"/>
<rect x="504.9" y="346.9" width="26.2" height="38.2" rx="0.8" fill="#fff" stroke="#1e1e1e" stroke-width="1.0"/>
<rect x="502.0" y="349.8" width="26.2" height="38.2" rx="0.8" fill="#fff" stroke="#1e1e1e" stroke-width="1.0"/>
<path d="M508.6 365.8 L521.7 365.8" stroke="#1e1e1e" stroke-width="1.0" fill="none"/>
<path d="M508.6 371.9 L521.7 371.9" stroke="#1e1e1e" stroke-width="1.0" fill="none"/>
<path d="M508.6 378.1 L521.7 378.1" stroke="#1e1e1e" stroke-width="1.0" fill="none"/>
<text x="501.0" y="396.1" font-family="Liberation Sans, sans-serif" font-size="9.50" font-style="normal" font-weight="normal" fill="#1e1e1e" stroke="#1e1e1e" stroke-width="0.3" textLength="48.0" lengthAdjust="spacingAndGlyphs">Documents</text>
<path d="M539.5 373.0 L561.0 373.0" fill="none" stroke="#1e1e1e" stroke-width="2.4" stroke-linecap="round"/>
<path d="M561.0 373.0 L550.9 368.7" fill="none" stroke="#1e1e1e" stroke-width="2.4" stroke-linecap="round"/>
<path d="M561.0 373.0 L550.9 377.3" fill="none" stroke="#1e1e1e" stroke-width="2.4" stroke-linecap="round"/>
<path d="M562.8 362.0 L584.2 362.0 L577.4 369.7 L577.4 383.3 L569.6 379.7 L569.6 369.7 Z" fill="#9eeaad" stroke="#1e1e1e" stroke-width="1.9" stroke-linejoin="round"/>
<path d="M574.1 370.9 L574.1 379.0" stroke="#5c9fc9" stroke-width="2.7" fill="none"/>
<path d="M586.0 372.0 L609.0 372.0" fill="none" stroke="#1e1e1e" stroke-width="2.4" stroke-linecap="round"/>
<path d="M609.0 372.0 L598.9 367.7" fill="none" stroke="#1e1e1e" stroke-width="2.4" stroke-linecap="round"/>
<path d="M609.0 372.0 L598.9 376.3" fill="none" stroke="#1e1e1e" stroke-width="2.4" stroke-linecap="round"/>
<path d="M612.91 371.11 C613.35 369.65 614.52 367.46 615.12 365.96 C615.72 364.46 615.50 363.34 616.51 362.11 C617.52 360.88 619.67 359.77 621.18 358.57 C622.69 357.36 623.83 355.65 625.57 354.86 C627.30 354.08 629.58 354.18 631.61 353.87 C633.63 353.56 635.67 352.95 637.71 353.00 C639.74 353.05 641.73 353.79 643.82 354.17 C645.91 354.55 648.37 354.48 650.26 355.28 C652.15 356.08 653.40 357.76 655.14 358.97 C656.87 360.17 659.28 361.21 660.65 362.52 C662.02 363.84 662.48 365.43 663.38 366.86 C664.27 368.29 665.78 369.66 666.00 371.11 C666.22 372.56 665.11 374.10 664.67 375.55 C664.22 376.99 664.20 378.92 663.32 379.81 C662.45 380.69 660.83 380.48 659.40 380.84 C657.98 381.20 656.23 381.55 654.79 381.98 C653.35 382.41 651.81 382.37 650.77 383.44 C649.72 384.51 649.67 387.23 648.51 388.40 C647.35 389.56 645.62 389.91 643.82 390.43 C642.02 390.94 639.74 391.58 637.71 391.50 C635.67 391.42 633.71 390.31 631.61 389.93 C629.50 389.55 626.92 389.72 625.05 389.22 C623.18 388.72 621.96 387.83 620.39 386.93 C618.81 386.03 616.61 385.16 615.59 383.84 C614.56 382.53 614.74 380.56 614.23 379.04 C613.72 377.52 612.72 376.06 612.50 374.73 C612.28 373.41 612.47 372.57 612.91 371.11Z" fill="#d0bfff" stroke="#1e1e1e" stroke-width="1.1" stroke-linejoin="round"/>
<path d="M620.53 358.07 C620.75 359.00 620.66 361.94 621.86 363.66 C623.06 365.38 626.75 367.63 627.73 368.42 M628.65 355.79 C628.89 356.42 629.18 358.69 630.09 359.52 C631.00 360.35 633.44 360.56 634.11 360.76 M641.31 353.93 C641.15 355.04 640.09 359.35 640.38 360.56 C640.67 361.76 642.61 361.07 643.06 361.18 M640.38 361.18 C639.94 361.94 637.71 364.21 637.71 365.73 C637.71 367.25 639.49 369.39 640.38 370.28 C641.27 371.18 642.61 370.97 643.06 371.11 M634.93 364.80 C634.64 365.56 633.03 368.30 633.18 369.35 C633.33 370.40 635.41 370.82 635.85 371.11 M651.18 361.18 C650.88 362.23 649.04 365.83 649.33 367.49 C649.62 369.15 652.33 370.51 652.93 371.11 M658.39 364.80 C657.94 365.40 656.62 367.66 655.71 368.42 C654.80 369.18 653.40 369.20 652.93 369.35 M624.13 367.49 C624.61 368.40 625.50 371.46 627.01 372.97 C628.52 374.49 630.95 375.70 633.18 376.60 C635.41 377.49 638.58 378.67 640.38 378.36 C642.18 378.05 643.38 375.34 643.98 374.73 M650.26 373.91 C650.26 374.79 649.50 377.96 650.26 379.18 C651.01 380.41 654.03 380.91 654.79 381.25 M614.66 373.91 C615.19 373.75 616.94 372.91 617.85 372.97 C618.76 373.04 619.74 374.10 620.11 374.32 M614.25 379.29 C614.85 378.99 616.65 377.60 617.85 377.53 C619.05 377.46 620.85 378.65 621.45 378.87 M617.85 384.77 C618.30 384.17 619.48 381.62 620.53 381.15 C621.57 380.68 623.53 381.84 624.13 381.98 M627.73 388.40 C628.19 387.64 629.30 384.76 630.50 383.84 C631.71 382.93 634.19 383.07 634.93 382.91 M637.71 389.22 C637.84 388.48 637.79 385.67 638.53 384.77 C639.27 383.88 641.07 383.55 642.13 383.84 C643.19 384.13 644.45 386.08 644.91 386.53 M616.10 364.80 C616.55 365.11 617.58 366.51 618.78 366.66 C619.98 366.82 622.55 365.89 623.30 365.73 M661.06 373.91 C660.99 374.65 660.72 377.61 660.65 378.36 M657.46 377.94 C657.46 378.32 657.46 379.84 657.46 380.22" fill="none" stroke="#1e1e1e" stroke-width="0.99" stroke-linecap="round"/>
<path d="M669.0 372.0 L688.0 372.0" fill="none" stroke="#1e1e1e" stroke-width="2.4" stroke-linecap="round"/>
<path d="M688.0 372.0 L677.9 367.7" fill="none" stroke="#1e1e1e" stroke-width="2.4" stroke-linecap="round"/>
<path d="M688.0 372.0 L677.9 376.3" fill="none" stroke="#1e1e1e" stroke-width="2.4" stroke-linecap="round"/>
<text x="697.0" y="374.6" font-family="Liberation Sans, sans-serif" font-size="9.50" font-style="italic" font-weight="normal" fill="#1e1e1e" stroke="#1e1e1e" stroke-width="0.0" textLength="30.5" lengthAdjust="spacingAndGlyphs">Answer</text>
</svg>
</body></html>
